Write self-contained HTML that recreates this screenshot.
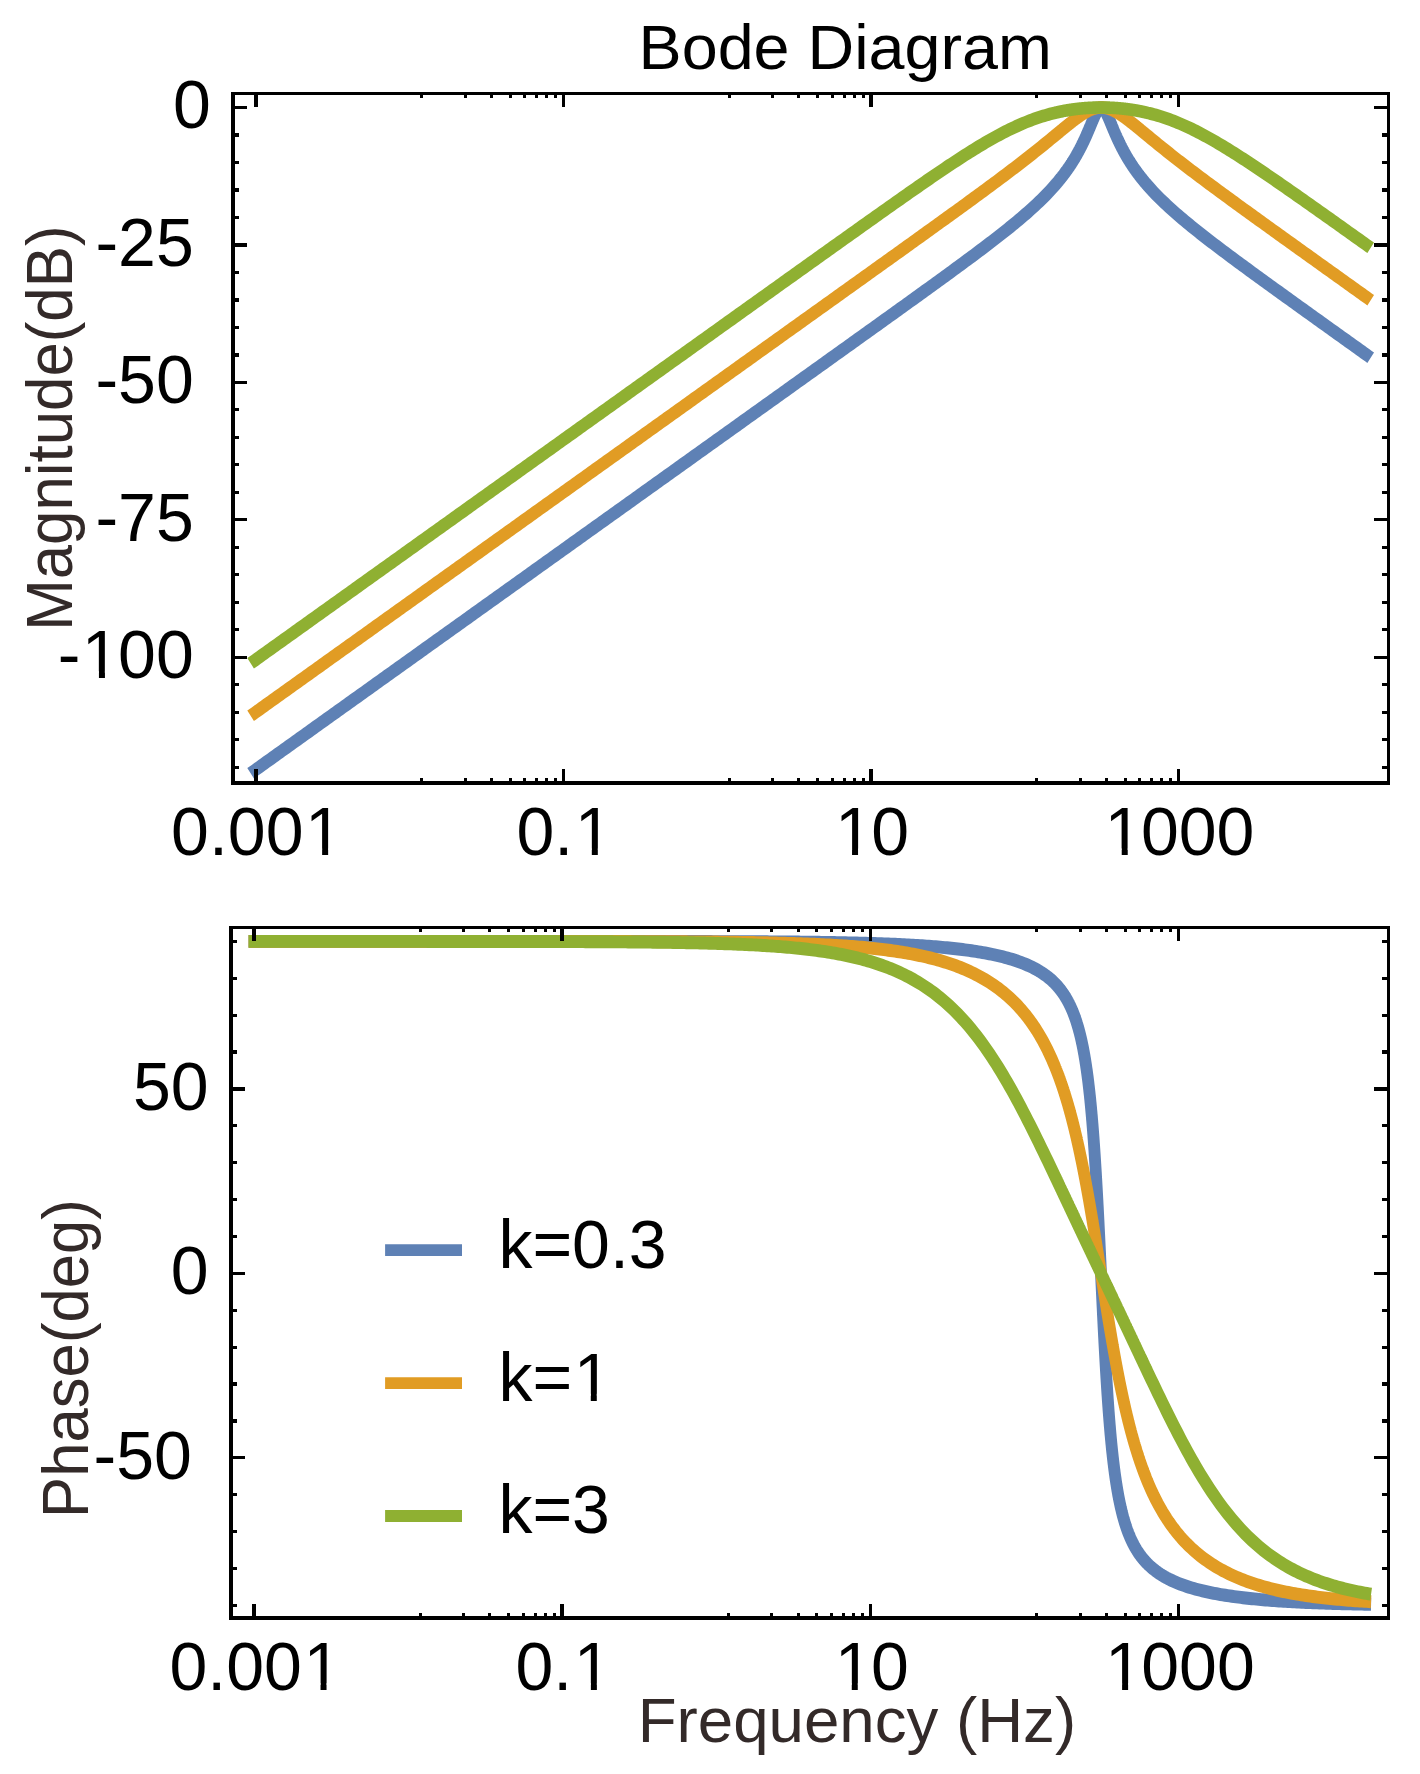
<!DOCTYPE html><html><head><meta charset="utf-8"><title>Bode Diagram</title>
<style>html,body{margin:0;padding:0;background:#fff}svg{display:block}text{font-family:"Liberation Sans",sans-serif;white-space:pre}</style></head><body>
<svg width="1420" height="1774" viewBox="0 0 1420 1774">
<rect width="1420" height="1774" fill="#fff"/>
<path transform="scale(1 1.0600)" d="M250.62 729.54 L252.86 728.03 L255.10 726.52 L257.34 725.00 L259.58 723.49 L261.82 721.98 L264.06 720.47 L266.30 718.96 L268.54 717.45 L270.78 715.94 L273.02 714.42 L275.26 712.91 L277.50 711.40 L279.74 709.89 L281.98 708.38 L284.22 706.87 L286.46 705.36 L288.70 703.84 L290.94 702.33 L293.18 700.82 L295.42 699.31 L297.66 697.80 L299.90 696.29 L302.14 694.78 L304.38 693.26 L306.62 691.75 L308.86 690.24 L311.10 688.73 L313.34 687.22 L315.58 685.71 L317.82 684.20 L320.06 682.68 L322.30 681.17 L324.54 679.66 L326.78 678.15 L329.02 676.64 L331.26 675.13 L333.50 673.62 L335.74 672.10 L337.98 670.59 L340.22 669.08 L342.46 667.57 L344.70 666.06 L346.94 664.55 L349.18 663.04 L351.42 661.52 L353.67 660.01 L355.91 658.50 L358.15 656.99 L360.39 655.48 L362.63 653.97 L364.87 652.46 L367.11 650.94 L369.35 649.43 L371.59 647.92 L373.83 646.41 L376.07 644.90 L378.31 643.39 L380.55 641.88 L382.79 640.36 L385.03 638.85 L387.27 637.34 L389.51 635.83 L391.75 634.32 L393.99 632.81 L396.23 631.30 L398.47 629.78 L400.71 628.27 L402.95 626.76 L405.19 625.25 L407.43 623.74 L409.67 622.23 L411.91 620.72 L414.15 619.20 L416.39 617.69 L418.63 616.18 L420.87 614.67 L423.11 613.16 L425.35 611.65 L427.59 610.14 L429.83 608.62 L432.07 607.11 L434.31 605.60 L436.55 604.09 L438.79 602.58 L441.03 601.07 L443.27 599.56 L445.51 598.04 L447.75 596.53 L449.99 595.02 L452.23 593.51 L454.47 592.00 L456.71 590.49 L458.95 588.98 L461.19 587.46 L463.43 585.95 L465.67 584.44 L467.91 582.93 L470.15 581.42 L472.39 579.91 L474.63 578.40 L476.87 576.88 L479.11 575.37 L481.35 573.86 L483.59 572.35 L485.83 570.84 L488.07 569.33 L490.31 567.82 L492.55 566.30 L494.79 564.79 L497.03 563.28 L499.27 561.77 L501.51 560.26 L503.75 558.75 L505.99 557.24 L508.23 555.72 L510.47 554.21 L512.71 552.70 L514.95 551.19 L517.20 549.68 L519.44 548.17 L521.68 546.66 L523.92 545.14 L526.16 543.63 L528.40 542.12 L530.64 540.61 L532.88 539.10 L535.12 537.59 L537.36 536.08 L539.60 534.56 L541.84 533.05 L544.08 531.54 L546.32 530.03 L548.56 528.52 L550.80 527.01 L553.04 525.50 L555.28 523.98 L557.52 522.47 L559.76 520.96 L562.00 519.45 L564.24 517.94 L566.48 516.43 L568.72 514.92 L570.96 513.40 L573.20 511.89 L575.44 510.38 L577.68 508.87 L579.92 507.36 L582.16 505.85 L584.40 504.34 L586.64 502.82 L588.88 501.31 L591.12 499.80 L593.36 498.29 L595.60 496.78 L597.84 495.27 L600.08 493.76 L602.32 492.24 L604.56 490.73 L606.80 489.22 L609.04 487.71 L611.28 486.20 L613.52 484.69 L615.76 483.18 L618.00 481.66 L620.24 480.15 L622.48 478.64 L624.72 477.13 L626.96 475.62 L629.20 474.11 L631.44 472.60 L633.68 471.08 L635.92 469.57 L638.16 468.06 L640.40 466.55 L642.64 465.04 L644.88 463.53 L647.12 462.02 L649.36 460.50 L651.60 458.99 L653.84 457.48 L656.08 455.97 L658.32 454.46 L660.56 452.95 L662.80 451.44 L665.04 449.92 L667.28 448.41 L669.52 446.90 L671.76 445.39 L674.00 443.88 L676.24 442.37 L678.49 440.86 L680.73 439.34 L682.97 437.83 L685.21 436.32 L687.45 434.81 L689.69 433.30 L691.93 431.79 L694.17 430.28 L696.41 428.76 L698.65 427.25 L700.89 425.74 L703.13 424.23 L705.37 422.72 L707.61 421.21 L709.85 419.69 L712.09 418.18 L714.33 416.67 L716.57 415.16 L718.81 413.65 L721.05 412.14 L723.29 410.63 L725.53 409.11 L727.77 407.60 L730.01 406.09 L732.25 404.58 L734.49 403.07 L736.73 401.56 L738.97 400.05 L741.21 398.53 L743.45 397.02 L745.69 395.51 L747.93 394.00 L750.17 392.49 L752.41 390.98 L754.65 389.47 L756.89 387.95 L759.13 386.44 L761.37 384.93 L763.61 383.42 L765.85 381.91 L768.09 380.40 L770.33 378.88 L772.57 377.37 L774.81 375.86 L777.05 374.35 L779.29 372.84 L781.53 371.33 L783.77 369.81 L786.01 368.30 L788.25 366.79 L790.49 365.28 L792.73 363.77 L794.97 362.26 L797.21 360.74 L799.45 359.23 L801.69 357.72 L803.93 356.21 L806.17 354.70 L808.41 353.19 L810.65 351.67 L812.89 350.16 L815.13 348.65 L817.37 347.14 L819.61 345.63 L821.85 344.11 L824.09 342.60 L826.33 341.09 L828.57 339.58 L830.81 338.06 L833.05 336.55 L835.29 335.04 L837.53 333.53 L839.77 332.02 L842.02 330.50 L844.26 328.99 L846.50 327.48 L848.74 325.96 L850.98 324.45 L853.22 322.94 L855.46 321.42 L857.70 319.91 L859.94 318.40 L862.18 316.88 L864.42 315.37 L866.66 313.86 L868.90 312.34 L871.14 310.83 L873.38 309.31 L875.62 307.80 L877.86 306.28 L880.10 304.77 L882.34 303.25 L884.58 301.74 L886.82 300.22 L889.06 298.71 L891.30 297.19 L893.54 295.67 L895.78 294.15 L898.02 292.64 L900.26 291.12 L902.50 289.60 L904.74 288.08 L906.98 286.56 L909.22 285.04 L911.46 283.52 L913.70 282.00 L915.94 280.48 L918.18 278.95 L920.42 277.43 L922.66 275.90 L924.90 274.38 L927.14 272.85 L929.38 271.32 L931.62 269.79 L933.86 268.26 L936.10 266.73 L938.34 265.20 L940.58 263.67 L942.82 262.13 L945.06 260.59 L947.30 259.05 L949.54 257.51 L951.78 255.97 L954.02 254.42 L956.26 252.87 L958.50 251.32 L960.74 249.77 L962.98 248.21 L965.22 246.65 L967.46 245.09 L969.70 243.52 L971.94 241.95 L974.18 240.38 L976.42 238.80 L978.66 237.21 L980.90 235.63 L983.14 234.03 L985.38 232.43 L987.62 230.82 L989.86 229.21 L992.10 227.59 L994.34 225.96 L996.58 224.32 L998.82 222.67 L1001.06 221.02 L1003.30 219.35 L1005.55 217.67 L1007.79 215.98 L1010.03 214.28 L1012.27 212.56 L1014.51 210.83 L1016.75 209.08 L1018.99 207.31 L1021.23 205.52 L1023.47 203.71 L1025.71 201.88 L1027.95 200.03 L1030.19 198.15 L1032.43 196.24 L1034.67 194.30 L1036.91 192.33 L1039.15 190.32 L1041.39 188.27 L1043.63 186.17 L1045.87 184.03 L1048.11 181.84 L1050.35 179.58 L1052.59 177.27 L1054.83 174.89 L1055.06 174.64 L1055.22 174.47 L1055.37 174.30 L1055.52 174.13 L1055.68 173.97 L1055.83 173.80 L1055.98 173.63 L1056.14 173.46 L1056.29 173.29 L1056.45 173.12 L1056.60 172.95 L1056.75 172.78 L1056.91 172.61 L1057.06 172.44 L1057.07 172.43 L1057.21 172.27 L1057.37 172.09 L1057.52 171.92 L1057.68 171.75 L1057.83 171.58 L1057.98 171.40 L1058.14 171.23 L1058.29 171.05 L1058.44 170.88 L1058.60 170.70 L1058.75 170.53 L1058.91 170.35 L1059.06 170.17 L1059.21 170.00 L1059.31 169.89 L1059.37 169.82 L1059.52 169.64 L1059.67 169.46 L1059.83 169.28 L1059.98 169.10 L1060.14 168.92 L1060.29 168.74 L1060.44 168.56 L1060.60 168.38 L1060.75 168.20 L1060.90 168.02 L1061.06 167.84 L1061.21 167.65 L1061.37 167.47 L1061.52 167.29 L1061.55 167.25 L1061.67 167.10 L1061.83 166.92 L1061.98 166.73 L1062.13 166.54 L1062.29 166.36 L1062.44 166.17 L1062.60 165.98 L1062.75 165.80 L1062.90 165.61 L1063.06 165.42 L1063.21 165.23 L1063.36 165.04 L1063.52 164.85 L1063.67 164.66 L1063.79 164.51 L1063.83 164.47 L1063.98 164.27 L1064.13 164.08 L1064.29 163.89 L1064.44 163.69 L1064.59 163.50 L1064.75 163.30 L1064.90 163.11 L1065.06 162.91 L1065.21 162.72 L1065.36 162.52 L1065.52 162.32 L1065.67 162.12 L1065.82 161.92 L1065.98 161.72 L1066.03 161.66 L1066.13 161.52 L1066.29 161.32 L1066.44 161.12 L1066.59 160.92 L1066.75 160.72 L1066.90 160.51 L1067.05 160.31 L1067.21 160.11 L1067.36 159.90 L1067.52 159.69 L1067.67 159.49 L1067.82 159.28 L1067.98 159.07 L1068.13 158.86 L1068.27 158.68 L1068.28 158.66 L1068.44 158.45 L1068.59 158.24 L1068.75 158.02 L1068.90 157.81 L1069.05 157.60 L1069.21 157.39 L1069.36 157.17 L1069.51 156.96 L1069.67 156.74 L1069.82 156.53 L1069.98 156.31 L1070.13 156.09 L1070.28 155.88 L1070.44 155.66 L1070.51 155.55 L1070.59 155.44 L1070.74 155.22 L1070.90 155.00 L1071.05 154.77 L1071.21 154.55 L1071.36 154.33 L1071.51 154.10 L1071.67 153.88 L1071.82 153.65 L1071.97 153.43 L1072.13 153.20 L1072.28 152.97 L1072.44 152.74 L1072.59 152.51 L1072.74 152.28 L1072.75 152.27 L1072.90 152.05 L1073.05 151.82 L1073.20 151.58 L1073.36 151.35 L1073.51 151.11 L1073.67 150.88 L1073.82 150.64 L1073.97 150.40 L1074.13 150.17 L1074.28 149.93 L1074.43 149.69 L1074.59 149.45 L1074.74 149.20 L1074.90 148.96 L1074.99 148.81 L1075.05 148.72 L1075.20 148.47 L1075.36 148.23 L1075.51 147.98 L1075.66 147.73 L1075.82 147.48 L1075.97 147.23 L1076.13 146.98 L1076.28 146.73 L1076.43 146.48 L1076.59 146.23 L1076.74 145.97 L1076.89 145.72 L1077.05 145.46 L1077.20 145.20 L1077.23 145.16 L1077.36 144.94 L1077.51 144.68 L1077.66 144.42 L1077.82 144.16 L1077.97 143.90 L1078.12 143.63 L1078.28 143.37 L1078.43 143.10 L1078.59 142.84 L1078.74 142.57 L1078.89 142.30 L1079.05 142.03 L1079.20 141.76 L1079.35 141.49 L1079.47 141.28 L1079.51 141.21 L1079.66 140.94 L1079.82 140.66 L1079.97 140.38 L1080.12 140.11 L1080.28 139.83 L1080.43 139.55 L1080.58 139.27 L1080.74 138.98 L1080.89 138.70 L1081.05 138.41 L1081.20 138.13 L1081.35 137.84 L1081.51 137.55 L1081.66 137.26 L1081.71 137.17 L1081.81 136.97 L1081.97 136.68 L1082.12 136.38 L1082.28 136.09 L1082.43 135.79 L1082.58 135.50 L1082.74 135.20 L1082.89 134.90 L1083.04 134.60 L1083.20 134.30 L1083.35 133.99 L1083.51 133.69 L1083.66 133.38 L1083.81 133.07 L1083.95 132.80 L1083.97 132.77 L1084.12 132.46 L1084.27 132.15 L1084.43 131.83 L1084.58 131.52 L1084.74 131.21 L1084.89 130.89 L1085.04 130.57 L1085.20 130.26 L1085.35 129.94 L1085.50 129.62 L1085.66 129.29 L1085.81 128.97 L1085.97 128.65 L1086.12 128.32 L1086.19 128.17 L1086.27 127.99 L1086.43 127.67 L1086.58 127.34 L1086.73 127.01 L1086.89 126.68 L1087.04 126.35 L1087.20 126.01 L1087.35 125.68 L1087.50 125.34 L1087.66 125.01 L1087.81 124.67 L1087.96 124.33 L1088.12 123.99 L1088.27 123.65 L1088.43 123.31 L1088.43 123.30 L1088.58 122.97 L1088.73 122.63 L1088.89 122.28 L1089.04 121.94 L1089.19 121.59 L1089.35 121.25 L1089.50 120.90 L1089.66 120.55 L1089.81 120.21 L1089.96 119.86 L1090.12 119.51 L1090.27 119.16 L1090.42 118.81 L1090.58 118.46 L1090.67 118.25 L1090.73 118.11 L1090.89 117.76 L1091.04 117.41 L1091.19 117.06 L1091.35 116.71 L1091.50 116.36 L1091.65 116.01 L1091.81 115.67 L1091.96 115.32 L1092.12 114.97 L1092.27 114.62 L1092.42 114.28 L1092.58 113.93 L1092.73 113.59 L1092.88 113.24 L1092.91 113.19 L1093.04 112.90 L1093.19 112.56 L1093.35 112.22 L1093.50 111.89 L1093.65 111.55 L1093.81 111.22 L1093.96 110.88 L1094.11 110.56 L1094.27 110.23 L1094.42 109.91 L1094.58 109.58 L1094.73 109.27 L1094.88 108.95 L1095.04 108.64 L1095.15 108.41 L1095.19 108.33 L1095.34 108.03 L1095.50 107.73 L1095.65 107.43 L1095.81 107.14 L1095.96 106.85 L1096.11 106.57 L1096.27 106.29 L1096.42 106.02 L1096.57 105.75 L1096.73 105.49 L1096.88 105.24 L1097.04 104.99 L1097.19 104.75 L1097.34 104.51 L1097.39 104.44 L1097.50 104.28 L1097.65 104.06 L1097.80 103.85 L1097.96 103.64 L1098.11 103.45 L1098.27 103.26 L1098.42 103.07 L1098.57 102.90 L1098.73 102.74 L1098.88 102.58 L1099.03 102.43 L1099.19 102.30 L1099.34 102.17 L1099.50 102.05 L1099.63 101.95 L1099.65 101.94 L1099.80 101.84 L1099.96 101.75 L1100.11 101.67 L1100.26 101.61 L1100.42 101.55 L1100.57 101.50 L1100.73 101.46 L1100.88 101.44 L1101.03 101.42 L1101.19 101.42 L1101.34 101.42 L1101.49 101.44 L1101.65 101.46 L1101.80 101.50 L1101.87 101.52 L1101.96 101.55 L1102.11 101.61 L1102.26 101.67 L1102.42 101.75 L1102.57 101.84 L1102.72 101.94 L1102.88 102.05 L1103.03 102.17 L1103.19 102.30 L1103.34 102.43 L1103.49 102.58 L1103.65 102.74 L1103.80 102.90 L1103.95 103.07 L1104.11 103.26 L1104.11 103.26 L1104.26 103.45 L1104.42 103.64 L1104.57 103.85 L1104.72 104.06 L1104.88 104.28 L1105.03 104.51 L1105.18 104.75 L1105.34 104.99 L1105.49 105.24 L1105.65 105.49 L1105.80 105.75 L1105.95 106.02 L1106.11 106.29 L1106.26 106.57 L1106.35 106.74 L1106.41 106.85 L1106.57 107.14 L1106.72 107.43 L1106.88 107.73 L1107.03 108.03 L1107.18 108.33 L1107.34 108.64 L1107.49 108.95 L1107.64 109.27 L1107.80 109.58 L1107.95 109.91 L1108.11 110.23 L1108.26 110.56 L1108.41 110.88 L1108.57 111.22 L1108.59 111.27 L1108.72 111.55 L1108.87 111.89 L1109.03 112.22 L1109.18 112.56 L1109.34 112.90 L1109.49 113.24 L1109.64 113.59 L1109.80 113.93 L1109.95 114.28 L1110.10 114.62 L1110.26 114.97 L1110.41 115.32 L1110.57 115.67 L1110.72 116.01 L1110.83 116.27 L1110.87 116.36 L1111.03 116.71 L1111.18 117.06 L1111.33 117.41 L1111.49 117.76 L1111.64 118.11 L1111.80 118.46 L1111.95 118.81 L1112.10 119.16 L1112.26 119.51 L1112.41 119.86 L1112.56 120.21 L1112.72 120.55 L1112.87 120.90 L1113.03 121.25 L1113.07 121.35 L1113.18 121.59 L1113.33 121.94 L1113.49 122.28 L1113.64 122.63 L1113.79 122.97 L1113.95 123.31 L1114.10 123.65 L1114.26 123.99 L1114.41 124.33 L1114.56 124.67 L1114.72 125.01 L1114.87 125.34 L1115.02 125.68 L1115.18 126.01 L1115.31 126.30 L1115.33 126.35 L1115.49 126.68 L1115.64 127.01 L1115.79 127.34 L1115.95 127.67 L1116.10 127.99 L1116.25 128.32 L1116.41 128.65 L1116.56 128.97 L1116.72 129.29 L1116.87 129.62 L1117.02 129.94 L1117.18 130.26 L1117.33 130.57 L1117.48 130.89 L1117.55 131.03 L1117.64 131.21 L1117.79 131.52 L1117.95 131.83 L1118.10 132.15 L1118.25 132.46 L1118.41 132.77 L1118.56 133.07 L1118.71 133.38 L1118.87 133.69 L1119.02 133.99 L1119.18 134.30 L1119.33 134.60 L1119.48 134.90 L1119.64 135.20 L1119.79 135.50 L1119.79 135.50 L1119.94 135.79 L1120.10 136.09 L1120.25 136.38 L1120.41 136.68 L1120.56 136.97 L1120.71 137.26 L1120.87 137.55 L1121.02 137.84 L1121.17 138.13 L1121.33 138.41 L1121.48 138.70 L1121.64 138.98 L1121.79 139.27 L1121.94 139.55 L1122.03 139.71 L1122.10 139.83 L1122.25 140.11 L1122.40 140.38 L1122.56 140.66 L1122.71 140.94 L1122.87 141.21 L1123.02 141.49 L1123.17 141.76 L1123.33 142.03 L1123.48 142.30 L1123.63 142.57 L1123.79 142.84 L1123.94 143.10 L1124.10 143.37 L1124.25 143.63 L1124.27 143.67 L1124.40 143.90 L1124.56 144.16 L1124.71 144.42 L1124.86 144.68 L1125.02 144.94 L1125.17 145.20 L1125.33 145.46 L1125.48 145.72 L1125.63 145.97 L1125.79 146.23 L1125.94 146.48 L1126.09 146.73 L1126.25 146.98 L1126.40 147.23 L1126.51 147.41 L1126.56 147.48 L1126.71 147.73 L1126.86 147.98 L1127.02 148.23 L1127.17 148.47 L1127.32 148.72 L1127.48 148.96 L1127.63 149.20 L1127.79 149.45 L1127.94 149.69 L1128.09 149.93 L1128.25 150.17 L1128.40 150.40 L1128.55 150.64 L1128.71 150.88 L1128.75 150.95 L1128.86 151.11 L1129.02 151.35 L1129.17 151.58 L1129.32 151.82 L1129.48 152.05 L1129.63 152.28 L1129.78 152.51 L1129.94 152.74 L1130.09 152.97 L1130.25 153.20 L1130.40 153.43 L1130.55 153.65 L1130.71 153.88 L1130.86 154.10 L1130.99 154.30 L1131.01 154.33 L1131.17 154.55 L1131.32 154.77 L1131.48 155.00 L1131.63 155.22 L1131.78 155.44 L1131.94 155.66 L1132.09 155.88 L1132.24 156.09 L1132.40 156.31 L1132.55 156.53 L1132.71 156.74 L1132.86 156.96 L1133.01 157.17 L1133.17 157.39 L1133.23 157.48 L1133.32 157.60 L1133.47 157.81 L1133.63 158.02 L1133.78 158.24 L1133.94 158.45 L1134.09 158.66 L1134.24 158.86 L1134.40 159.07 L1134.55 159.28 L1134.70 159.49 L1134.86 159.69 L1135.01 159.90 L1135.17 160.11 L1135.32 160.31 L1135.47 160.51 L1135.47 160.51 L1135.63 160.72 L1135.78 160.92 L1135.93 161.12 L1136.09 161.32 L1136.24 161.52 L1136.40 161.72 L1136.55 161.92 L1136.70 162.12 L1136.86 162.32 L1137.01 162.52 L1137.16 162.72 L1137.32 162.91 L1137.47 163.11 L1137.63 163.30 L1137.71 163.42 L1137.78 163.50 L1137.93 163.69 L1138.09 163.89 L1138.24 164.08 L1138.39 164.27 L1138.55 164.47 L1138.70 164.66 L1138.86 164.85 L1139.01 165.04 L1139.16 165.23 L1139.32 165.42 L1139.47 165.61 L1139.62 165.80 L1139.78 165.98 L1139.93 166.17 L1139.95 166.20 L1140.09 166.36 L1140.24 166.54 L1140.39 166.73 L1140.55 166.92 L1140.70 167.10 L1140.85 167.29 L1141.01 167.47 L1141.16 167.65 L1141.32 167.84 L1141.47 168.02 L1141.62 168.20 L1141.78 168.38 L1141.93 168.56 L1142.08 168.74 L1142.19 168.87 L1142.24 168.92 L1142.39 169.10 L1142.55 169.28 L1142.70 169.46 L1142.85 169.64 L1143.01 169.82 L1143.16 170.00 L1143.31 170.17 L1143.47 170.35 L1143.62 170.53 L1143.78 170.70 L1143.93 170.88 L1144.08 171.05 L1144.24 171.23 L1144.39 171.40 L1144.43 171.45 L1144.54 171.58 L1144.70 171.75 L1144.85 171.92 L1145.01 172.09 L1145.16 172.27 L1145.31 172.44 L1145.47 172.61 L1145.62 172.78 L1145.77 172.95 L1145.93 173.12 L1146.08 173.29 L1146.24 173.46 L1146.39 173.63 L1146.54 173.80 L1146.67 173.94 L1146.70 173.97 L1146.85 174.13 L1147.00 174.30 L1147.16 174.47 L1147.31 174.64 L1148.91 176.35 L1151.15 178.69 L1153.39 180.97 L1155.63 183.18 L1157.87 185.34 L1160.11 187.46 L1162.35 189.52 L1164.59 191.55 L1166.83 193.54 L1169.08 195.49 L1171.32 197.41 L1173.56 199.30 L1175.80 201.17 L1178.04 203.01 L1180.28 204.82 L1182.52 206.62 L1184.76 208.39 L1187.00 210.15 L1189.24 211.89 L1191.48 213.61 L1193.72 215.32 L1195.96 217.02 L1198.20 218.70 L1200.44 220.37 L1202.68 222.03 L1204.92 223.68 L1207.16 225.32 L1209.40 226.95 L1211.64 228.58 L1213.88 230.20 L1216.12 231.81 L1218.36 233.41 L1220.60 235.01 L1222.84 236.60 L1225.08 238.18 L1227.32 239.76 L1229.56 241.34 L1231.80 242.91 L1234.04 244.48 L1236.28 246.05 L1238.52 247.61 L1240.76 249.16 L1243.00 250.72 L1245.24 252.27 L1247.48 253.82 L1249.72 255.37 L1251.96 256.91 L1254.20 258.45 L1256.44 259.99 L1258.68 261.53 L1260.92 263.07 L1263.16 264.60 L1265.40 266.14 L1267.64 267.67 L1269.88 269.20 L1272.12 270.73 L1274.36 272.26 L1276.60 273.78 L1278.84 275.31 L1281.08 276.84 L1283.32 278.36 L1285.56 279.88 L1287.80 281.41 L1290.04 282.93 L1292.28 284.45 L1294.52 285.97 L1296.76 287.49 L1299.00 289.01 L1301.24 290.53 L1303.48 292.05 L1305.72 293.56 L1307.96 295.08 L1310.20 296.60 L1312.44 298.12 L1314.68 299.63 L1316.92 301.15 L1319.16 302.66 L1321.40 304.18 L1323.64 305.69 L1325.88 307.21 L1328.12 308.72 L1330.37 310.24 L1332.61 311.75 L1334.85 313.27 L1337.09 314.78 L1339.33 316.30 L1341.57 317.81 L1343.81 319.32 L1346.05 320.84 L1348.29 322.35 L1350.53 323.86 L1352.77 325.38 L1355.01 326.89 L1357.25 328.40 L1359.49 329.91 L1361.73 331.43 L1363.97 332.94 L1366.21 334.45 L1368.45 335.96 L1370.69 337.48" fill="none" stroke="#5E81B5" stroke-width="11.90" stroke-linejoin="round" stroke-linecap="butt"/>
<path transform="scale(1 1.0600)" d="M250.62 675.30 L252.86 673.79 L255.10 672.27 L257.34 670.76 L259.58 669.25 L261.82 667.74 L264.06 666.23 L266.30 664.72 L268.54 663.21 L270.78 661.69 L273.02 660.18 L275.26 658.67 L277.50 657.16 L279.74 655.65 L281.98 654.14 L284.22 652.63 L286.46 651.11 L288.70 649.60 L290.94 648.09 L293.18 646.58 L295.42 645.07 L297.66 643.56 L299.90 642.05 L302.14 640.53 L304.38 639.02 L306.62 637.51 L308.86 636.00 L311.10 634.49 L313.34 632.98 L315.58 631.47 L317.82 629.95 L320.06 628.44 L322.30 626.93 L324.54 625.42 L326.78 623.91 L329.02 622.40 L331.26 620.89 L333.50 619.37 L335.74 617.86 L337.98 616.35 L340.22 614.84 L342.46 613.33 L344.70 611.82 L346.94 610.31 L349.18 608.79 L351.42 607.28 L353.67 605.77 L355.91 604.26 L358.15 602.75 L360.39 601.24 L362.63 599.73 L364.87 598.21 L367.11 596.70 L369.35 595.19 L371.59 593.68 L373.83 592.17 L376.07 590.66 L378.31 589.15 L380.55 587.63 L382.79 586.12 L385.03 584.61 L387.27 583.10 L389.51 581.59 L391.75 580.08 L393.99 578.57 L396.23 577.05 L398.47 575.54 L400.71 574.03 L402.95 572.52 L405.19 571.01 L407.43 569.50 L409.67 567.99 L411.91 566.47 L414.15 564.96 L416.39 563.45 L418.63 561.94 L420.87 560.43 L423.11 558.92 L425.35 557.41 L427.59 555.89 L429.83 554.38 L432.07 552.87 L434.31 551.36 L436.55 549.85 L438.79 548.34 L441.03 546.83 L443.27 545.31 L445.51 543.80 L447.75 542.29 L449.99 540.78 L452.23 539.27 L454.47 537.76 L456.71 536.25 L458.95 534.73 L461.19 533.22 L463.43 531.71 L465.67 530.20 L467.91 528.69 L470.15 527.18 L472.39 525.67 L474.63 524.15 L476.87 522.64 L479.11 521.13 L481.35 519.62 L483.59 518.11 L485.83 516.60 L488.07 515.09 L490.31 513.57 L492.55 512.06 L494.79 510.55 L497.03 509.04 L499.27 507.53 L501.51 506.02 L503.75 504.51 L505.99 502.99 L508.23 501.48 L510.47 499.97 L512.71 498.46 L514.95 496.95 L517.20 495.44 L519.44 493.93 L521.68 492.41 L523.92 490.90 L526.16 489.39 L528.40 487.88 L530.64 486.37 L532.88 484.86 L535.12 483.35 L537.36 481.83 L539.60 480.32 L541.84 478.81 L544.08 477.30 L546.32 475.79 L548.56 474.28 L550.80 472.77 L553.04 471.25 L555.28 469.74 L557.52 468.23 L559.76 466.72 L562.00 465.21 L564.24 463.70 L566.48 462.19 L568.72 460.67 L570.96 459.16 L573.20 457.65 L575.44 456.14 L577.68 454.63 L579.92 453.12 L582.16 451.61 L584.40 450.09 L586.64 448.58 L588.88 447.07 L591.12 445.56 L593.36 444.05 L595.60 442.54 L597.84 441.03 L600.08 439.51 L602.32 438.00 L604.56 436.49 L606.80 434.98 L609.04 433.47 L611.28 431.96 L613.52 430.45 L615.76 428.93 L618.00 427.42 L620.24 425.91 L622.48 424.40 L624.72 422.89 L626.96 421.38 L629.20 419.87 L631.44 418.35 L633.68 416.84 L635.92 415.33 L638.16 413.82 L640.40 412.31 L642.64 410.80 L644.88 409.29 L647.12 407.77 L649.36 406.26 L651.60 404.75 L653.84 403.24 L656.08 401.73 L658.32 400.22 L660.56 398.71 L662.80 397.19 L665.04 395.68 L667.28 394.17 L669.52 392.66 L671.76 391.15 L674.00 389.64 L676.24 388.13 L678.49 386.61 L680.73 385.10 L682.97 383.59 L685.21 382.08 L687.45 380.57 L689.69 379.06 L691.93 377.55 L694.17 376.03 L696.41 374.52 L698.65 373.01 L700.89 371.50 L703.13 369.99 L705.37 368.48 L707.61 366.97 L709.85 365.45 L712.09 363.94 L714.33 362.43 L716.57 360.92 L718.81 359.41 L721.05 357.90 L723.29 356.39 L725.53 354.87 L727.77 353.36 L730.01 351.85 L732.25 350.34 L734.49 348.83 L736.73 347.32 L738.97 345.80 L741.21 344.29 L743.45 342.78 L745.69 341.27 L747.93 339.76 L750.17 338.25 L752.41 336.74 L754.65 335.22 L756.89 333.71 L759.13 332.20 L761.37 330.69 L763.61 329.18 L765.85 327.67 L768.09 326.16 L770.33 324.64 L772.57 323.13 L774.81 321.62 L777.05 320.11 L779.29 318.60 L781.53 317.09 L783.77 315.58 L786.01 314.06 L788.25 312.55 L790.49 311.04 L792.73 309.53 L794.97 308.02 L797.21 306.51 L799.45 304.99 L801.69 303.48 L803.93 301.97 L806.17 300.46 L808.41 298.95 L810.65 297.44 L812.89 295.92 L815.13 294.41 L817.37 292.90 L819.61 291.39 L821.85 289.88 L824.09 288.37 L826.33 286.85 L828.57 285.34 L830.81 283.83 L833.05 282.32 L835.29 280.81 L837.53 279.29 L839.77 277.78 L842.02 276.27 L844.26 274.76 L846.50 273.25 L848.74 271.73 L850.98 270.22 L853.22 268.71 L855.46 267.20 L857.70 265.68 L859.94 264.17 L862.18 262.66 L864.42 261.15 L866.66 259.63 L868.90 258.12 L871.14 256.61 L873.38 255.09 L875.62 253.58 L877.86 252.07 L880.10 250.56 L882.34 249.04 L884.58 247.53 L886.82 246.01 L889.06 244.50 L891.30 242.99 L893.54 241.47 L895.78 239.96 L898.02 238.44 L900.26 236.93 L902.50 235.41 L904.74 233.90 L906.98 232.38 L909.22 230.86 L911.46 229.35 L913.70 227.83 L915.94 226.31 L918.18 224.80 L920.42 223.28 L922.66 221.76 L924.90 220.24 L927.14 218.72 L929.38 217.20 L931.62 215.68 L933.86 214.16 L936.10 212.64 L938.34 211.12 L940.58 209.59 L942.82 208.07 L945.06 206.54 L947.30 205.02 L949.54 203.49 L951.78 201.96 L954.02 200.44 L956.26 198.91 L958.50 197.37 L960.74 195.84 L962.98 194.31 L965.22 192.77 L967.46 191.23 L969.70 189.69 L971.94 188.15 L974.18 186.61 L976.42 185.06 L978.66 183.52 L980.90 181.97 L983.14 180.41 L985.38 178.86 L987.62 177.30 L989.86 175.74 L992.10 174.17 L994.34 172.60 L996.58 171.03 L998.82 169.46 L1001.06 167.87 L1003.30 166.29 L1005.55 164.70 L1007.79 163.11 L1010.03 161.51 L1012.27 159.90 L1014.51 158.29 L1016.75 156.67 L1018.99 155.05 L1021.23 153.42 L1023.47 151.78 L1025.71 150.13 L1027.95 148.48 L1030.19 146.82 L1032.43 145.15 L1034.67 143.47 L1036.91 141.79 L1039.15 140.09 L1041.39 138.39 L1043.63 136.68 L1045.87 134.96 L1048.11 133.24 L1050.35 131.50 L1052.59 129.77 L1054.83 128.02 L1055.06 127.84 L1055.22 127.72 L1055.37 127.60 L1055.52 127.48 L1055.68 127.36 L1055.83 127.24 L1055.98 127.12 L1056.14 127.00 L1056.29 126.88 L1056.45 126.76 L1056.60 126.64 L1056.75 126.52 L1056.91 126.41 L1057.06 126.29 L1057.07 126.28 L1057.21 126.17 L1057.37 126.05 L1057.52 125.93 L1057.68 125.81 L1057.83 125.69 L1057.98 125.57 L1058.14 125.45 L1058.29 125.33 L1058.44 125.21 L1058.60 125.09 L1058.75 124.97 L1058.91 124.85 L1059.06 124.73 L1059.21 124.61 L1059.31 124.53 L1059.37 124.49 L1059.52 124.37 L1059.67 124.25 L1059.83 124.13 L1059.98 124.01 L1060.14 123.89 L1060.29 123.77 L1060.44 123.65 L1060.60 123.53 L1060.75 123.41 L1060.90 123.29 L1061.06 123.17 L1061.21 123.05 L1061.37 122.93 L1061.52 122.82 L1061.55 122.79 L1061.67 122.70 L1061.83 122.58 L1061.98 122.46 L1062.13 122.34 L1062.29 122.22 L1062.44 122.10 L1062.60 121.98 L1062.75 121.86 L1062.90 121.74 L1063.06 121.62 L1063.21 121.50 L1063.36 121.38 L1063.52 121.27 L1063.67 121.15 L1063.79 121.06 L1063.83 121.03 L1063.98 120.91 L1064.13 120.79 L1064.29 120.67 L1064.44 120.55 L1064.59 120.43 L1064.75 120.32 L1064.90 120.20 L1065.06 120.08 L1065.21 119.96 L1065.36 119.84 L1065.52 119.72 L1065.67 119.61 L1065.82 119.49 L1065.98 119.37 L1066.03 119.33 L1066.13 119.25 L1066.29 119.14 L1066.44 119.02 L1066.59 118.90 L1066.75 118.78 L1066.90 118.66 L1067.05 118.55 L1067.21 118.43 L1067.36 118.31 L1067.52 118.20 L1067.67 118.08 L1067.82 117.96 L1067.98 117.84 L1068.13 117.73 L1068.27 117.62 L1068.28 117.61 L1068.44 117.50 L1068.59 117.38 L1068.75 117.26 L1068.90 117.15 L1069.05 117.03 L1069.21 116.91 L1069.36 116.80 L1069.51 116.68 L1069.67 116.57 L1069.82 116.45 L1069.98 116.34 L1070.13 116.22 L1070.28 116.11 L1070.44 115.99 L1070.51 115.94 L1070.59 115.88 L1070.74 115.76 L1070.90 115.65 L1071.05 115.53 L1071.21 115.42 L1071.36 115.31 L1071.51 115.19 L1071.67 115.08 L1071.82 114.96 L1071.97 114.85 L1072.13 114.74 L1072.28 114.63 L1072.44 114.51 L1072.59 114.40 L1072.74 114.29 L1072.75 114.28 L1072.90 114.17 L1073.05 114.06 L1073.20 113.95 L1073.36 113.84 L1073.51 113.73 L1073.67 113.62 L1073.82 113.51 L1073.97 113.39 L1074.13 113.28 L1074.28 113.17 L1074.43 113.06 L1074.59 112.95 L1074.74 112.84 L1074.90 112.73 L1074.99 112.67 L1075.05 112.63 L1075.20 112.52 L1075.36 112.41 L1075.51 112.30 L1075.66 112.19 L1075.82 112.08 L1075.97 111.97 L1076.13 111.87 L1076.28 111.76 L1076.43 111.65 L1076.59 111.55 L1076.74 111.44 L1076.89 111.33 L1077.05 111.23 L1077.20 111.12 L1077.23 111.10 L1077.36 111.02 L1077.51 110.91 L1077.66 110.81 L1077.82 110.70 L1077.97 110.60 L1078.12 110.50 L1078.28 110.39 L1078.43 110.29 L1078.59 110.19 L1078.74 110.08 L1078.89 109.98 L1079.05 109.88 L1079.20 109.78 L1079.35 109.68 L1079.47 109.60 L1079.51 109.58 L1079.66 109.48 L1079.82 109.38 L1079.97 109.28 L1080.12 109.18 L1080.28 109.08 L1080.43 108.98 L1080.58 108.88 L1080.74 108.78 L1080.89 108.69 L1081.05 108.59 L1081.20 108.49 L1081.35 108.40 L1081.51 108.30 L1081.66 108.21 L1081.71 108.18 L1081.81 108.11 L1081.97 108.02 L1082.12 107.92 L1082.28 107.83 L1082.43 107.74 L1082.58 107.65 L1082.74 107.55 L1082.89 107.46 L1083.04 107.37 L1083.20 107.28 L1083.35 107.19 L1083.51 107.10 L1083.66 107.01 L1083.81 106.92 L1083.95 106.84 L1083.97 106.83 L1084.12 106.75 L1084.27 106.66 L1084.43 106.57 L1084.58 106.49 L1084.74 106.40 L1084.89 106.32 L1085.04 106.23 L1085.20 106.15 L1085.35 106.06 L1085.50 105.98 L1085.66 105.90 L1085.81 105.82 L1085.97 105.74 L1086.12 105.66 L1086.19 105.62 L1086.27 105.58 L1086.43 105.50 L1086.58 105.42 L1086.73 105.34 L1086.89 105.26 L1087.04 105.19 L1087.20 105.11 L1087.35 105.03 L1087.50 104.96 L1087.66 104.88 L1087.81 104.81 L1087.96 104.74 L1088.12 104.66 L1088.27 104.59 L1088.43 104.52 L1088.43 104.52 L1088.58 104.45 L1088.73 104.38 L1088.89 104.31 L1089.04 104.24 L1089.19 104.18 L1089.35 104.11 L1089.50 104.04 L1089.66 103.98 L1089.81 103.91 L1089.96 103.85 L1090.12 103.79 L1090.27 103.72 L1090.42 103.66 L1090.58 103.60 L1090.67 103.56 L1090.73 103.54 L1090.89 103.48 L1091.04 103.42 L1091.19 103.36 L1091.35 103.30 L1091.50 103.25 L1091.65 103.19 L1091.81 103.14 L1091.96 103.08 L1092.12 103.03 L1092.27 102.98 L1092.42 102.92 L1092.58 102.87 L1092.73 102.82 L1092.88 102.77 L1092.91 102.77 L1093.04 102.72 L1093.19 102.68 L1093.35 102.63 L1093.50 102.58 L1093.65 102.54 L1093.81 102.49 L1093.96 102.45 L1094.11 102.41 L1094.27 102.37 L1094.42 102.32 L1094.58 102.28 L1094.73 102.24 L1094.88 102.21 L1095.04 102.17 L1095.15 102.14 L1095.19 102.13 L1095.34 102.10 L1095.50 102.06 L1095.65 102.03 L1095.81 101.99 L1095.96 101.96 L1096.11 101.93 L1096.27 101.90 L1096.42 101.87 L1096.57 101.84 L1096.73 101.81 L1096.88 101.79 L1097.04 101.76 L1097.19 101.74 L1097.34 101.71 L1097.39 101.70 L1097.50 101.69 L1097.65 101.67 L1097.80 101.65 L1097.96 101.62 L1098.11 101.61 L1098.27 101.59 L1098.42 101.57 L1098.57 101.55 L1098.73 101.54 L1098.88 101.52 L1099.03 101.51 L1099.19 101.50 L1099.34 101.48 L1099.50 101.47 L1099.63 101.46 L1099.65 101.46 L1099.80 101.45 L1099.96 101.45 L1100.11 101.44 L1100.26 101.43 L1100.42 101.43 L1100.57 101.42 L1100.73 101.42 L1100.88 101.42 L1101.03 101.42 L1101.19 101.42 L1101.34 101.42 L1101.49 101.42 L1101.65 101.42 L1101.80 101.42 L1101.87 101.42 L1101.96 101.43 L1102.11 101.43 L1102.26 101.44 L1102.42 101.45 L1102.57 101.45 L1102.72 101.46 L1102.88 101.47 L1103.03 101.48 L1103.19 101.50 L1103.34 101.51 L1103.49 101.52 L1103.65 101.54 L1103.80 101.55 L1103.95 101.57 L1104.11 101.59 L1104.11 101.59 L1104.26 101.61 L1104.42 101.62 L1104.57 101.65 L1104.72 101.67 L1104.88 101.69 L1105.03 101.71 L1105.18 101.74 L1105.34 101.76 L1105.49 101.79 L1105.65 101.81 L1105.80 101.84 L1105.95 101.87 L1106.11 101.90 L1106.26 101.93 L1106.35 101.95 L1106.41 101.96 L1106.57 101.99 L1106.72 102.03 L1106.88 102.06 L1107.03 102.10 L1107.18 102.13 L1107.34 102.17 L1107.49 102.21 L1107.64 102.24 L1107.80 102.28 L1107.95 102.32 L1108.11 102.37 L1108.26 102.41 L1108.41 102.45 L1108.57 102.49 L1108.59 102.50 L1108.72 102.54 L1108.87 102.58 L1109.03 102.63 L1109.18 102.68 L1109.34 102.72 L1109.49 102.77 L1109.64 102.82 L1109.80 102.87 L1109.95 102.92 L1110.10 102.98 L1110.26 103.03 L1110.41 103.08 L1110.57 103.14 L1110.72 103.19 L1110.83 103.23 L1110.87 103.25 L1111.03 103.30 L1111.18 103.36 L1111.33 103.42 L1111.49 103.48 L1111.64 103.54 L1111.80 103.60 L1111.95 103.66 L1112.10 103.72 L1112.26 103.79 L1112.41 103.85 L1112.56 103.91 L1112.72 103.98 L1112.87 104.04 L1113.03 104.11 L1113.07 104.13 L1113.18 104.18 L1113.33 104.24 L1113.49 104.31 L1113.64 104.38 L1113.79 104.45 L1113.95 104.52 L1114.10 104.59 L1114.26 104.66 L1114.41 104.74 L1114.56 104.81 L1114.72 104.88 L1114.87 104.96 L1115.02 105.03 L1115.18 105.11 L1115.31 105.18 L1115.33 105.19 L1115.49 105.26 L1115.64 105.34 L1115.79 105.42 L1115.95 105.50 L1116.10 105.58 L1116.25 105.66 L1116.41 105.74 L1116.56 105.82 L1116.72 105.90 L1116.87 105.98 L1117.02 106.06 L1117.18 106.15 L1117.33 106.23 L1117.48 106.32 L1117.55 106.35 L1117.64 106.40 L1117.79 106.49 L1117.95 106.57 L1118.10 106.66 L1118.25 106.75 L1118.41 106.83 L1118.56 106.92 L1118.71 107.01 L1118.87 107.10 L1119.02 107.19 L1119.18 107.28 L1119.33 107.37 L1119.48 107.46 L1119.64 107.55 L1119.79 107.65 L1119.79 107.65 L1119.94 107.74 L1120.10 107.83 L1120.25 107.92 L1120.41 108.02 L1120.56 108.11 L1120.71 108.21 L1120.87 108.30 L1121.02 108.40 L1121.17 108.49 L1121.33 108.59 L1121.48 108.69 L1121.64 108.78 L1121.79 108.88 L1121.94 108.98 L1122.03 109.04 L1122.10 109.08 L1122.25 109.18 L1122.40 109.28 L1122.56 109.38 L1122.71 109.48 L1122.87 109.58 L1123.02 109.68 L1123.17 109.78 L1123.33 109.88 L1123.48 109.98 L1123.63 110.08 L1123.79 110.19 L1123.94 110.29 L1124.10 110.39 L1124.25 110.50 L1124.27 110.51 L1124.40 110.60 L1124.56 110.70 L1124.71 110.81 L1124.86 110.91 L1125.02 111.02 L1125.17 111.12 L1125.33 111.23 L1125.48 111.33 L1125.63 111.44 L1125.79 111.55 L1125.94 111.65 L1126.09 111.76 L1126.25 111.87 L1126.40 111.97 L1126.51 112.05 L1126.56 112.08 L1126.71 112.19 L1126.86 112.30 L1127.02 112.41 L1127.17 112.52 L1127.32 112.63 L1127.48 112.73 L1127.63 112.84 L1127.79 112.95 L1127.94 113.06 L1128.09 113.17 L1128.25 113.28 L1128.40 113.39 L1128.55 113.51 L1128.71 113.62 L1128.75 113.65 L1128.86 113.73 L1129.02 113.84 L1129.17 113.95 L1129.32 114.06 L1129.48 114.17 L1129.63 114.29 L1129.78 114.40 L1129.94 114.51 L1130.09 114.63 L1130.25 114.74 L1130.40 114.85 L1130.55 114.96 L1130.71 115.08 L1130.86 115.19 L1130.99 115.29 L1131.01 115.31 L1131.17 115.42 L1131.32 115.53 L1131.48 115.65 L1131.63 115.76 L1131.78 115.88 L1131.94 115.99 L1132.09 116.11 L1132.24 116.22 L1132.40 116.34 L1132.55 116.45 L1132.71 116.57 L1132.86 116.68 L1133.01 116.80 L1133.17 116.91 L1133.23 116.96 L1133.32 117.03 L1133.47 117.15 L1133.63 117.26 L1133.78 117.38 L1133.94 117.50 L1134.09 117.61 L1134.24 117.73 L1134.40 117.84 L1134.55 117.96 L1134.70 118.08 L1134.86 118.20 L1135.01 118.31 L1135.17 118.43 L1135.32 118.55 L1135.47 118.66 L1135.47 118.66 L1135.63 118.78 L1135.78 118.90 L1135.93 119.02 L1136.09 119.14 L1136.24 119.25 L1136.40 119.37 L1136.55 119.49 L1136.70 119.61 L1136.86 119.72 L1137.01 119.84 L1137.16 119.96 L1137.32 120.08 L1137.47 120.20 L1137.63 120.32 L1137.71 120.38 L1137.78 120.43 L1137.93 120.55 L1138.09 120.67 L1138.24 120.79 L1138.39 120.91 L1138.55 121.03 L1138.70 121.15 L1138.86 121.27 L1139.01 121.38 L1139.16 121.50 L1139.32 121.62 L1139.47 121.74 L1139.62 121.86 L1139.78 121.98 L1139.93 122.10 L1139.95 122.12 L1140.09 122.22 L1140.24 122.34 L1140.39 122.46 L1140.55 122.58 L1140.70 122.70 L1140.85 122.82 L1141.01 122.93 L1141.16 123.05 L1141.32 123.17 L1141.47 123.29 L1141.62 123.41 L1141.78 123.53 L1141.93 123.65 L1142.08 123.77 L1142.19 123.86 L1142.24 123.89 L1142.39 124.01 L1142.55 124.13 L1142.70 124.25 L1142.85 124.37 L1143.01 124.49 L1143.16 124.61 L1143.31 124.73 L1143.47 124.85 L1143.62 124.97 L1143.78 125.09 L1143.93 125.21 L1144.08 125.33 L1144.24 125.45 L1144.39 125.57 L1144.43 125.60 L1144.54 125.69 L1144.70 125.81 L1144.85 125.93 L1145.01 126.05 L1145.16 126.17 L1145.31 126.29 L1145.47 126.41 L1145.62 126.52 L1145.77 126.64 L1145.93 126.76 L1146.08 126.88 L1146.24 127.00 L1146.39 127.12 L1146.54 127.24 L1146.67 127.35 L1146.70 127.36 L1146.85 127.48 L1147.00 127.60 L1147.16 127.72 L1147.31 127.84 L1148.91 129.09 L1151.15 130.83 L1153.39 132.56 L1155.63 134.29 L1157.87 136.01 L1160.11 137.73 L1162.35 139.43 L1164.59 141.13 L1166.83 142.82 L1169.08 144.50 L1171.32 146.17 L1173.56 147.84 L1175.80 149.49 L1178.04 151.14 L1180.28 152.78 L1182.52 154.41 L1184.76 156.04 L1187.00 157.66 L1189.24 159.27 L1191.48 160.88 L1193.72 162.48 L1195.96 164.08 L1198.20 165.67 L1200.44 167.26 L1202.68 168.84 L1204.92 170.42 L1207.16 171.99 L1209.40 173.56 L1211.64 175.13 L1213.88 176.69 L1216.12 178.25 L1218.36 179.81 L1220.60 181.36 L1222.84 182.91 L1225.08 184.46 L1227.32 186.01 L1229.56 187.55 L1231.80 189.09 L1234.04 190.63 L1236.28 192.17 L1238.52 193.71 L1240.76 195.24 L1243.00 196.78 L1245.24 198.31 L1247.48 199.84 L1249.72 201.37 L1251.96 202.90 L1254.20 204.42 L1256.44 205.95 L1258.68 207.48 L1260.92 209.00 L1263.16 210.52 L1265.40 212.05 L1267.64 213.57 L1269.88 215.09 L1272.12 216.61 L1274.36 218.13 L1276.60 219.65 L1278.84 221.17 L1281.08 222.69 L1283.32 224.21 L1285.56 225.72 L1287.80 227.24 L1290.04 228.76 L1292.28 230.27 L1294.52 231.79 L1296.76 233.31 L1299.00 234.82 L1301.24 236.34 L1303.48 237.85 L1305.72 239.37 L1307.96 240.88 L1310.20 242.40 L1312.44 243.91 L1314.68 245.43 L1316.92 246.94 L1319.16 248.45 L1321.40 249.97 L1323.64 251.48 L1325.88 252.99 L1328.12 254.51 L1330.37 256.02 L1332.61 257.53 L1334.85 259.05 L1337.09 260.56 L1339.33 262.07 L1341.57 263.58 L1343.81 265.10 L1346.05 266.61 L1348.29 268.12 L1350.53 269.63 L1352.77 271.15 L1355.01 272.66 L1357.25 274.17 L1359.49 275.68 L1361.73 277.19 L1363.97 278.71 L1366.21 280.22 L1368.45 281.73 L1370.69 283.24" fill="none" stroke="#E19C24" stroke-width="11.90" stroke-linejoin="round" stroke-linecap="butt"/>
<path transform="scale(1 1.0600)" d="M250.62 625.80 L252.86 624.29 L255.10 622.78 L257.34 621.27 L259.58 619.76 L261.82 618.25 L264.06 616.73 L266.30 615.22 L268.54 613.71 L270.78 612.20 L273.02 610.69 L275.26 609.18 L277.50 607.67 L279.74 606.15 L281.98 604.64 L284.22 603.13 L286.46 601.62 L288.70 600.11 L290.94 598.60 L293.18 597.09 L295.42 595.57 L297.66 594.06 L299.90 592.55 L302.14 591.04 L304.38 589.53 L306.62 588.02 L308.86 586.51 L311.10 584.99 L313.34 583.48 L315.58 581.97 L317.82 580.46 L320.06 578.95 L322.30 577.44 L324.54 575.93 L326.78 574.41 L329.02 572.90 L331.26 571.39 L333.50 569.88 L335.74 568.37 L337.98 566.86 L340.22 565.35 L342.46 563.83 L344.70 562.32 L346.94 560.81 L349.18 559.30 L351.42 557.79 L353.67 556.28 L355.91 554.77 L358.15 553.25 L360.39 551.74 L362.63 550.23 L364.87 548.72 L367.11 547.21 L369.35 545.70 L371.59 544.19 L373.83 542.67 L376.07 541.16 L378.31 539.65 L380.55 538.14 L382.79 536.63 L385.03 535.12 L387.27 533.61 L389.51 532.09 L391.75 530.58 L393.99 529.07 L396.23 527.56 L398.47 526.05 L400.71 524.54 L402.95 523.03 L405.19 521.51 L407.43 520.00 L409.67 518.49 L411.91 516.98 L414.15 515.47 L416.39 513.96 L418.63 512.45 L420.87 510.93 L423.11 509.42 L425.35 507.91 L427.59 506.40 L429.83 504.89 L432.07 503.38 L434.31 501.87 L436.55 500.35 L438.79 498.84 L441.03 497.33 L443.27 495.82 L445.51 494.31 L447.75 492.80 L449.99 491.29 L452.23 489.77 L454.47 488.26 L456.71 486.75 L458.95 485.24 L461.19 483.73 L463.43 482.22 L465.67 480.71 L467.91 479.19 L470.15 477.68 L472.39 476.17 L474.63 474.66 L476.87 473.15 L479.11 471.64 L481.35 470.13 L483.59 468.61 L485.83 467.10 L488.07 465.59 L490.31 464.08 L492.55 462.57 L494.79 461.06 L497.03 459.55 L499.27 458.03 L501.51 456.52 L503.75 455.01 L505.99 453.50 L508.23 451.99 L510.47 450.48 L512.71 448.97 L514.95 447.45 L517.20 445.94 L519.44 444.43 L521.68 442.92 L523.92 441.41 L526.16 439.90 L528.40 438.39 L530.64 436.87 L532.88 435.36 L535.12 433.85 L537.36 432.34 L539.60 430.83 L541.84 429.32 L544.08 427.81 L546.32 426.29 L548.56 424.78 L550.80 423.27 L553.04 421.76 L555.28 420.25 L557.52 418.74 L559.76 417.23 L562.00 415.71 L564.24 414.20 L566.48 412.69 L568.72 411.18 L570.96 409.67 L573.20 408.16 L575.44 406.65 L577.68 405.13 L579.92 403.62 L582.16 402.11 L584.40 400.60 L586.64 399.09 L588.88 397.58 L591.12 396.07 L593.36 394.55 L595.60 393.04 L597.84 391.53 L600.08 390.02 L602.32 388.51 L604.56 387.00 L606.80 385.49 L609.04 383.97 L611.28 382.46 L613.52 380.95 L615.76 379.44 L618.00 377.93 L620.24 376.42 L622.48 374.91 L624.72 373.39 L626.96 371.88 L629.20 370.37 L631.44 368.86 L633.68 367.35 L635.92 365.84 L638.16 364.33 L640.40 362.81 L642.64 361.30 L644.88 359.79 L647.12 358.28 L649.36 356.77 L651.60 355.26 L653.84 353.75 L656.08 352.23 L658.32 350.72 L660.56 349.21 L662.80 347.70 L665.04 346.19 L667.28 344.68 L669.52 343.17 L671.76 341.65 L674.00 340.14 L676.24 338.63 L678.49 337.12 L680.73 335.61 L682.97 334.10 L685.21 332.59 L687.45 331.07 L689.69 329.56 L691.93 328.05 L694.17 326.54 L696.41 325.03 L698.65 323.52 L700.89 322.01 L703.13 320.49 L705.37 318.98 L707.61 317.47 L709.85 315.96 L712.09 314.45 L714.33 312.94 L716.57 311.43 L718.81 309.92 L721.05 308.40 L723.29 306.89 L725.53 305.38 L727.77 303.87 L730.01 302.36 L732.25 300.85 L734.49 299.34 L736.73 297.83 L738.97 296.31 L741.21 294.80 L743.45 293.29 L745.69 291.78 L747.93 290.27 L750.17 288.76 L752.41 287.25 L754.65 285.74 L756.89 284.22 L759.13 282.71 L761.37 281.20 L763.61 279.69 L765.85 278.18 L768.09 276.67 L770.33 275.16 L772.57 273.65 L774.81 272.14 L777.05 270.63 L779.29 269.12 L781.53 267.60 L783.77 266.09 L786.01 264.58 L788.25 263.07 L790.49 261.56 L792.73 260.05 L794.97 258.54 L797.21 257.03 L799.45 255.52 L801.69 254.01 L803.93 252.50 L806.17 250.99 L808.41 249.48 L810.65 247.97 L812.89 246.46 L815.13 244.95 L817.37 243.44 L819.61 241.93 L821.85 240.42 L824.09 238.92 L826.33 237.41 L828.57 235.90 L830.81 234.39 L833.05 232.88 L835.29 231.37 L837.53 229.87 L839.77 228.36 L842.02 226.85 L844.26 225.35 L846.50 223.84 L848.74 222.33 L850.98 220.83 L853.22 219.32 L855.46 217.82 L857.70 216.31 L859.94 214.81 L862.18 213.30 L864.42 211.80 L866.66 210.30 L868.90 208.80 L871.14 207.30 L873.38 205.80 L875.62 204.30 L877.86 202.80 L880.10 201.30 L882.34 199.80 L884.58 198.31 L886.82 196.81 L889.06 195.32 L891.30 193.83 L893.54 192.33 L895.78 190.84 L898.02 189.36 L900.26 187.87 L902.50 186.38 L904.74 184.90 L906.98 183.42 L909.22 181.94 L911.46 180.46 L913.70 178.99 L915.94 177.51 L918.18 176.04 L920.42 174.58 L922.66 173.11 L924.90 171.65 L927.14 170.19 L929.38 168.74 L931.62 167.29 L933.86 165.84 L936.10 164.40 L938.34 162.96 L940.58 161.53 L942.82 160.11 L945.06 158.68 L947.30 157.27 L949.54 155.86 L951.78 154.46 L954.02 153.06 L956.26 151.67 L958.50 150.29 L960.74 148.92 L962.98 147.55 L965.22 146.20 L967.46 144.86 L969.70 143.52 L971.94 142.20 L974.18 140.88 L976.42 139.58 L978.66 138.30 L980.90 137.02 L983.14 135.76 L985.38 134.52 L987.62 133.29 L989.86 132.07 L992.10 130.87 L994.34 129.69 L996.58 128.53 L998.82 127.38 L1001.06 126.26 L1003.30 125.15 L1005.55 124.07 L1007.79 123.00 L1010.03 121.96 L1012.27 120.94 L1014.51 119.95 L1016.75 118.97 L1018.99 118.03 L1021.23 117.10 L1023.47 116.21 L1025.71 115.33 L1027.95 114.49 L1030.19 113.67 L1032.43 112.88 L1034.67 112.11 L1036.91 111.37 L1039.15 110.66 L1041.39 109.98 L1043.63 109.32 L1045.87 108.70 L1048.11 108.10 L1050.35 107.52 L1052.59 106.98 L1054.83 106.46 L1055.06 106.41 L1055.22 106.37 L1055.37 106.34 L1055.52 106.30 L1055.68 106.27 L1055.83 106.24 L1055.98 106.20 L1056.14 106.17 L1056.29 106.13 L1056.45 106.10 L1056.60 106.07 L1056.75 106.03 L1056.91 106.00 L1057.06 105.97 L1057.07 105.97 L1057.21 105.94 L1057.37 105.90 L1057.52 105.87 L1057.68 105.84 L1057.83 105.81 L1057.98 105.77 L1058.14 105.74 L1058.29 105.71 L1058.44 105.68 L1058.60 105.65 L1058.75 105.62 L1058.91 105.58 L1059.06 105.55 L1059.21 105.52 L1059.31 105.50 L1059.37 105.49 L1059.52 105.46 L1059.67 105.43 L1059.83 105.40 L1059.98 105.37 L1060.14 105.34 L1060.29 105.31 L1060.44 105.28 L1060.60 105.25 L1060.75 105.22 L1060.90 105.19 L1061.06 105.16 L1061.21 105.13 L1061.37 105.10 L1061.52 105.07 L1061.55 105.07 L1061.67 105.04 L1061.83 105.01 L1061.98 104.98 L1062.13 104.96 L1062.29 104.93 L1062.44 104.90 L1062.60 104.87 L1062.75 104.84 L1062.90 104.81 L1063.06 104.79 L1063.21 104.76 L1063.36 104.73 L1063.52 104.70 L1063.67 104.67 L1063.79 104.65 L1063.83 104.65 L1063.98 104.62 L1064.13 104.59 L1064.29 104.57 L1064.44 104.54 L1064.59 104.51 L1064.75 104.49 L1064.90 104.46 L1065.06 104.43 L1065.21 104.41 L1065.36 104.38 L1065.52 104.35 L1065.67 104.33 L1065.82 104.30 L1065.98 104.28 L1066.03 104.27 L1066.13 104.25 L1066.29 104.23 L1066.44 104.20 L1066.59 104.18 L1066.75 104.15 L1066.90 104.13 L1067.05 104.10 L1067.21 104.08 L1067.36 104.05 L1067.52 104.03 L1067.67 104.00 L1067.82 103.98 L1067.98 103.95 L1068.13 103.93 L1068.27 103.91 L1068.28 103.91 L1068.44 103.88 L1068.59 103.86 L1068.75 103.84 L1068.90 103.81 L1069.05 103.79 L1069.21 103.77 L1069.36 103.74 L1069.51 103.72 L1069.67 103.70 L1069.82 103.67 L1069.98 103.65 L1070.13 103.63 L1070.28 103.61 L1070.44 103.58 L1070.51 103.57 L1070.59 103.56 L1070.74 103.54 L1070.90 103.52 L1071.05 103.50 L1071.21 103.48 L1071.36 103.45 L1071.51 103.43 L1071.67 103.41 L1071.82 103.39 L1071.97 103.37 L1072.13 103.35 L1072.28 103.33 L1072.44 103.31 L1072.59 103.29 L1072.74 103.27 L1072.75 103.27 L1072.90 103.25 L1073.05 103.23 L1073.20 103.21 L1073.36 103.19 L1073.51 103.17 L1073.67 103.15 L1073.82 103.13 L1073.97 103.11 L1074.13 103.09 L1074.28 103.07 L1074.43 103.05 L1074.59 103.03 L1074.74 103.01 L1074.90 102.99 L1074.99 102.98 L1075.05 102.97 L1075.20 102.96 L1075.36 102.94 L1075.51 102.92 L1075.66 102.90 L1075.82 102.88 L1075.97 102.86 L1076.13 102.85 L1076.28 102.83 L1076.43 102.81 L1076.59 102.79 L1076.74 102.78 L1076.89 102.76 L1077.05 102.74 L1077.20 102.72 L1077.23 102.72 L1077.36 102.71 L1077.51 102.69 L1077.66 102.67 L1077.82 102.66 L1077.97 102.64 L1078.12 102.62 L1078.28 102.61 L1078.43 102.59 L1078.59 102.58 L1078.74 102.56 L1078.89 102.54 L1079.05 102.53 L1079.20 102.51 L1079.35 102.50 L1079.47 102.49 L1079.51 102.48 L1079.66 102.47 L1079.82 102.45 L1079.97 102.44 L1080.12 102.42 L1080.28 102.41 L1080.43 102.39 L1080.58 102.38 L1080.74 102.36 L1080.89 102.35 L1081.05 102.33 L1081.20 102.32 L1081.35 102.31 L1081.51 102.29 L1081.66 102.28 L1081.71 102.27 L1081.81 102.27 L1081.97 102.25 L1082.12 102.24 L1082.28 102.23 L1082.43 102.21 L1082.58 102.20 L1082.74 102.19 L1082.89 102.17 L1083.04 102.16 L1083.20 102.15 L1083.35 102.13 L1083.51 102.12 L1083.66 102.11 L1083.81 102.10 L1083.95 102.09 L1083.97 102.09 L1084.12 102.07 L1084.27 102.06 L1084.43 102.05 L1084.58 102.04 L1084.74 102.03 L1084.89 102.02 L1085.04 102.00 L1085.20 101.99 L1085.35 101.98 L1085.50 101.97 L1085.66 101.96 L1085.81 101.95 L1085.97 101.94 L1086.12 101.93 L1086.19 101.92 L1086.27 101.92 L1086.43 101.91 L1086.58 101.90 L1086.73 101.89 L1086.89 101.88 L1087.04 101.87 L1087.20 101.86 L1087.35 101.85 L1087.50 101.84 L1087.66 101.83 L1087.81 101.82 L1087.96 101.81 L1088.12 101.80 L1088.27 101.79 L1088.43 101.78 L1088.43 101.78 L1088.58 101.77 L1088.73 101.76 L1088.89 101.76 L1089.04 101.75 L1089.19 101.74 L1089.35 101.73 L1089.50 101.72 L1089.66 101.71 L1089.81 101.71 L1089.96 101.70 L1090.12 101.69 L1090.27 101.68 L1090.42 101.68 L1090.58 101.67 L1090.67 101.66 L1090.73 101.66 L1090.89 101.65 L1091.04 101.65 L1091.19 101.64 L1091.35 101.63 L1091.50 101.63 L1091.65 101.62 L1091.81 101.61 L1091.96 101.61 L1092.12 101.60 L1092.27 101.59 L1092.42 101.59 L1092.58 101.58 L1092.73 101.58 L1092.88 101.57 L1092.91 101.57 L1093.04 101.56 L1093.19 101.56 L1093.35 101.55 L1093.50 101.55 L1093.65 101.54 L1093.81 101.54 L1093.96 101.53 L1094.11 101.53 L1094.27 101.52 L1094.42 101.52 L1094.58 101.51 L1094.73 101.51 L1094.88 101.50 L1095.04 101.50 L1095.15 101.50 L1095.19 101.50 L1095.34 101.49 L1095.50 101.49 L1095.65 101.48 L1095.81 101.48 L1095.96 101.48 L1096.11 101.47 L1096.27 101.47 L1096.42 101.47 L1096.57 101.46 L1096.73 101.46 L1096.88 101.46 L1097.04 101.45 L1097.19 101.45 L1097.34 101.45 L1097.39 101.45 L1097.50 101.45 L1097.65 101.44 L1097.80 101.44 L1097.96 101.44 L1098.11 101.44 L1098.27 101.43 L1098.42 101.43 L1098.57 101.43 L1098.73 101.43 L1098.88 101.43 L1099.03 101.43 L1099.19 101.42 L1099.34 101.42 L1099.50 101.42 L1099.63 101.42 L1099.65 101.42 L1099.80 101.42 L1099.96 101.42 L1100.11 101.42 L1100.26 101.42 L1100.42 101.42 L1100.57 101.42 L1100.73 101.42 L1100.88 101.42 L1101.03 101.42 L1101.19 101.42 L1101.34 101.42 L1101.49 101.42 L1101.65 101.42 L1101.80 101.42 L1101.87 101.42 L1101.96 101.42 L1102.11 101.42 L1102.26 101.42 L1102.42 101.42 L1102.57 101.42 L1102.72 101.42 L1102.88 101.42 L1103.03 101.42 L1103.19 101.42 L1103.34 101.43 L1103.49 101.43 L1103.65 101.43 L1103.80 101.43 L1103.95 101.43 L1104.11 101.43 L1104.11 101.43 L1104.26 101.44 L1104.42 101.44 L1104.57 101.44 L1104.72 101.44 L1104.88 101.45 L1105.03 101.45 L1105.18 101.45 L1105.34 101.45 L1105.49 101.46 L1105.65 101.46 L1105.80 101.46 L1105.95 101.47 L1106.11 101.47 L1106.26 101.47 L1106.35 101.48 L1106.41 101.48 L1106.57 101.48 L1106.72 101.48 L1106.88 101.49 L1107.03 101.49 L1107.18 101.50 L1107.34 101.50 L1107.49 101.50 L1107.64 101.51 L1107.80 101.51 L1107.95 101.52 L1108.11 101.52 L1108.26 101.53 L1108.41 101.53 L1108.57 101.54 L1108.59 101.54 L1108.72 101.54 L1108.87 101.55 L1109.03 101.55 L1109.18 101.56 L1109.34 101.56 L1109.49 101.57 L1109.64 101.58 L1109.80 101.58 L1109.95 101.59 L1110.10 101.59 L1110.26 101.60 L1110.41 101.61 L1110.57 101.61 L1110.72 101.62 L1110.83 101.62 L1110.87 101.63 L1111.03 101.63 L1111.18 101.64 L1111.33 101.65 L1111.49 101.65 L1111.64 101.66 L1111.80 101.67 L1111.95 101.68 L1112.10 101.68 L1112.26 101.69 L1112.41 101.70 L1112.56 101.71 L1112.72 101.71 L1112.87 101.72 L1113.03 101.73 L1113.07 101.73 L1113.18 101.74 L1113.33 101.75 L1113.49 101.76 L1113.64 101.76 L1113.79 101.77 L1113.95 101.78 L1114.10 101.79 L1114.26 101.80 L1114.41 101.81 L1114.56 101.82 L1114.72 101.83 L1114.87 101.84 L1115.02 101.85 L1115.18 101.86 L1115.31 101.87 L1115.33 101.87 L1115.49 101.88 L1115.64 101.89 L1115.79 101.90 L1115.95 101.91 L1116.10 101.92 L1116.25 101.93 L1116.41 101.94 L1116.56 101.95 L1116.72 101.96 L1116.87 101.97 L1117.02 101.98 L1117.18 101.99 L1117.33 102.00 L1117.48 102.02 L1117.55 102.02 L1117.64 102.03 L1117.79 102.04 L1117.95 102.05 L1118.10 102.06 L1118.25 102.07 L1118.41 102.09 L1118.56 102.10 L1118.71 102.11 L1118.87 102.12 L1119.02 102.13 L1119.18 102.15 L1119.33 102.16 L1119.48 102.17 L1119.64 102.19 L1119.79 102.20 L1119.79 102.20 L1119.94 102.21 L1120.10 102.23 L1120.25 102.24 L1120.41 102.25 L1120.56 102.27 L1120.71 102.28 L1120.87 102.29 L1121.02 102.31 L1121.17 102.32 L1121.33 102.33 L1121.48 102.35 L1121.64 102.36 L1121.79 102.38 L1121.94 102.39 L1122.03 102.40 L1122.10 102.41 L1122.25 102.42 L1122.40 102.44 L1122.56 102.45 L1122.71 102.47 L1122.87 102.48 L1123.02 102.50 L1123.17 102.51 L1123.33 102.53 L1123.48 102.54 L1123.63 102.56 L1123.79 102.58 L1123.94 102.59 L1124.10 102.61 L1124.25 102.62 L1124.27 102.63 L1124.40 102.64 L1124.56 102.66 L1124.71 102.67 L1124.86 102.69 L1125.02 102.71 L1125.17 102.72 L1125.33 102.74 L1125.48 102.76 L1125.63 102.78 L1125.79 102.79 L1125.94 102.81 L1126.09 102.83 L1126.25 102.85 L1126.40 102.86 L1126.51 102.88 L1126.56 102.88 L1126.71 102.90 L1126.86 102.92 L1127.02 102.94 L1127.17 102.96 L1127.32 102.97 L1127.48 102.99 L1127.63 103.01 L1127.79 103.03 L1127.94 103.05 L1128.09 103.07 L1128.25 103.09 L1128.40 103.11 L1128.55 103.13 L1128.71 103.15 L1128.75 103.15 L1128.86 103.17 L1129.02 103.19 L1129.17 103.21 L1129.32 103.23 L1129.48 103.25 L1129.63 103.27 L1129.78 103.29 L1129.94 103.31 L1130.09 103.33 L1130.25 103.35 L1130.40 103.37 L1130.55 103.39 L1130.71 103.41 L1130.86 103.43 L1130.99 103.45 L1131.01 103.45 L1131.17 103.48 L1131.32 103.50 L1131.48 103.52 L1131.63 103.54 L1131.78 103.56 L1131.94 103.58 L1132.09 103.61 L1132.24 103.63 L1132.40 103.65 L1132.55 103.67 L1132.71 103.70 L1132.86 103.72 L1133.01 103.74 L1133.17 103.77 L1133.23 103.78 L1133.32 103.79 L1133.47 103.81 L1133.63 103.84 L1133.78 103.86 L1133.94 103.88 L1134.09 103.91 L1134.24 103.93 L1134.40 103.95 L1134.55 103.98 L1134.70 104.00 L1134.86 104.03 L1135.01 104.05 L1135.17 104.08 L1135.32 104.10 L1135.47 104.13 L1135.47 104.13 L1135.63 104.15 L1135.78 104.18 L1135.93 104.20 L1136.09 104.23 L1136.24 104.25 L1136.40 104.28 L1136.55 104.30 L1136.70 104.33 L1136.86 104.35 L1137.01 104.38 L1137.16 104.41 L1137.32 104.43 L1137.47 104.46 L1137.63 104.49 L1137.71 104.50 L1137.78 104.51 L1137.93 104.54 L1138.09 104.57 L1138.24 104.59 L1138.39 104.62 L1138.55 104.65 L1138.70 104.67 L1138.86 104.70 L1139.01 104.73 L1139.16 104.76 L1139.32 104.79 L1139.47 104.81 L1139.62 104.84 L1139.78 104.87 L1139.93 104.90 L1139.95 104.90 L1140.09 104.93 L1140.24 104.96 L1140.39 104.98 L1140.55 105.01 L1140.70 105.04 L1140.85 105.07 L1141.01 105.10 L1141.16 105.13 L1141.32 105.16 L1141.47 105.19 L1141.62 105.22 L1141.78 105.25 L1141.93 105.28 L1142.08 105.31 L1142.19 105.33 L1142.24 105.34 L1142.39 105.37 L1142.55 105.40 L1142.70 105.43 L1142.85 105.46 L1143.01 105.49 L1143.16 105.52 L1143.31 105.55 L1143.47 105.58 L1143.62 105.62 L1143.78 105.65 L1143.93 105.68 L1144.08 105.71 L1144.24 105.74 L1144.39 105.77 L1144.43 105.78 L1144.54 105.81 L1144.70 105.84 L1144.85 105.87 L1145.01 105.90 L1145.16 105.94 L1145.31 105.97 L1145.47 106.00 L1145.62 106.03 L1145.77 106.07 L1145.93 106.10 L1146.08 106.13 L1146.24 106.17 L1146.39 106.20 L1146.54 106.24 L1146.67 106.26 L1146.70 106.27 L1146.85 106.30 L1147.00 106.34 L1147.16 106.37 L1147.31 106.41 L1148.91 106.77 L1151.15 107.31 L1153.39 107.87 L1155.63 108.46 L1157.87 109.08 L1160.11 109.72 L1162.35 110.39 L1164.59 111.09 L1166.83 111.82 L1169.08 112.58 L1171.32 113.36 L1173.56 114.17 L1175.80 115.00 L1178.04 115.86 L1180.28 116.75 L1182.52 117.66 L1184.76 118.60 L1187.00 119.56 L1189.24 120.55 L1191.48 121.56 L1193.72 122.59 L1195.96 123.65 L1198.20 124.73 L1200.44 125.82 L1202.68 126.94 L1204.92 128.08 L1207.16 129.24 L1209.40 130.41 L1211.64 131.60 L1213.88 132.81 L1216.12 134.04 L1218.36 135.28 L1220.60 136.53 L1222.84 137.80 L1225.08 139.08 L1227.32 140.38 L1229.56 141.69 L1231.80 143.00 L1234.04 144.33 L1236.28 145.68 L1238.52 147.03 L1240.76 148.39 L1243.00 149.76 L1245.24 151.13 L1247.48 152.52 L1249.72 153.91 L1251.96 155.31 L1254.20 156.72 L1256.44 158.13 L1258.68 159.55 L1260.92 160.98 L1263.16 162.41 L1265.40 163.84 L1267.64 165.28 L1269.88 166.73 L1272.12 168.17 L1274.36 169.63 L1276.60 171.08 L1278.84 172.54 L1281.08 174.01 L1283.32 175.47 L1285.56 176.94 L1287.80 178.41 L1290.04 179.89 L1292.28 181.36 L1294.52 182.84 L1296.76 184.32 L1299.00 185.81 L1301.24 187.29 L1303.48 188.78 L1305.72 190.26 L1307.96 191.75 L1310.20 193.24 L1312.44 194.74 L1314.68 196.23 L1316.92 197.72 L1319.16 199.22 L1321.40 200.72 L1323.64 202.21 L1325.88 203.71 L1328.12 205.21 L1330.37 206.71 L1332.61 208.21 L1334.85 209.71 L1337.09 211.22 L1339.33 212.72 L1341.57 214.22 L1343.81 215.73 L1346.05 217.23 L1348.29 218.74 L1350.53 220.24 L1352.77 221.75 L1355.01 223.25 L1357.25 224.76 L1359.49 226.27 L1361.73 227.77 L1363.97 229.28 L1366.21 230.79 L1368.45 232.30 L1370.69 233.80" fill="none" stroke="#8FB032" stroke-width="11.90" stroke-linejoin="round" stroke-linecap="butt"/>
<path d="M254 92H258V107H254Z M254 769H258V785H254Z M420 92H423V98H420Z M420 778H423V785H420Z M464 92H467V98H464Z M464 778H467V785H464Z M490 92H493V98H490Z M490 778H493V785H490Z M509 92H512V98H509Z M509 778H512V785H509Z M523 92H526V98H523Z M523 778H526V785H523Z M535 92H538V98H535Z M535 778H538V785H535Z M545 92H548V98H545Z M545 778H548V785H545Z M554 92H557V98H554Z M554 778H557V785H554Z M562 92H565V107H562Z M562 769H565V785H562Z M728 92H731V98H728Z M728 778H731V785H728Z M771 92H774V98H771Z M771 778H774V785H771Z M797 92H800V98H797Z M797 778H800V785H797Z M816 92H819V98H816Z M816 778H819V785H816Z M831 92H834V98H831Z M831 778H834V785H831Z M843 92H846V98H843Z M843 778H846V785H843Z M853 92H856V98H853Z M853 778H856V785H853Z M862 92H865V98H862Z M862 778H865V785H862Z M869 92H873V107H869Z M869 769H873V785H869Z M1035 92H1038V98H1035Z M1035 778H1038V785H1035Z M1079 92H1082V98H1079Z M1079 778H1082V785H1079Z M1105 92H1108V98H1105Z M1105 778H1108V785H1105Z M1124 92H1127V98H1124Z M1124 778H1127V785H1124Z M1138 92H1141V98H1138Z M1138 778H1141V785H1138Z M1150 92H1153V98H1150Z M1150 778H1153V785H1150Z M1160 92H1163V98H1160Z M1160 778H1163V785H1160Z M1169 92H1172V98H1169Z M1169 778H1172V785H1169Z M1177 92H1180V107H1177Z M1177 769H1180V785H1177Z M231 106H247V109H231Z M1374 106H1390V109H1374Z M231 243H247V247H231Z M1374 243H1390V247H1374Z M231 381H247V384H231Z M1374 381H1390V384H1374Z M231 518H247V521H231Z M1374 518H1390V521H1374Z M231 656H247V659H231Z M1374 656H1390V659H1374Z M231 766H239V769H231Z M1382 766H1390V769H1382Z M231 738H239V741H231Z M1382 738H1390V741H1382Z M231 711H239V714H231Z M1382 711H1390V714H1382Z M231 683H239V686H231Z M1382 683H1390V686H1382Z M231 628H239V631H231Z M1382 628H1390V631H1382Z M231 601H239V604H231Z M1382 601H1390V604H1382Z M231 573H239V576H231Z M1382 573H1390V576H1382Z M231 546H239V549H231Z M1382 546H1390V549H1382Z M231 491H239V494H231Z M1382 491H1390V494H1382Z M231 463H239V466H231Z M1382 463H1390V466H1382Z M231 436H239V439H231Z M1382 436H1390V439H1382Z M231 408H239V411H231Z M1382 408H1390V411H1382Z M231 353H239V357H231Z M1382 353H1390V357H1382Z M231 326H239V329H231Z M1382 326H1390V329H1382Z M231 298H239V302H231Z M1382 298H1390V302H1382Z M231 271H239V274H231Z M1382 271H1390V274H1382Z M231 216H239V219H231Z M1382 216H1390V219H1382Z M231 188H239V192H231Z M1382 188H1390V192H1382Z M231 161H239V164H231Z M1382 161H1390V164H1382Z M231 133H239V137H231Z M1382 133H1390V137H1382Z M231 92H235V785H231Z M1387 92H1390V785H1387Z M231 92H1390V95H231Z M231 781H1390V785H231Z" fill="#000"/>
<path transform="scale(1 1.0900)" d="M248.61 863.66 L250.85 863.66 L253.10 863.66 L255.34 863.66 L257.59 863.66 L259.83 863.66 L262.08 863.66 L264.32 863.66 L266.57 863.66 L268.81 863.66 L271.06 863.66 L273.30 863.66 L275.55 863.66 L277.79 863.66 L280.04 863.66 L282.28 863.66 L284.53 863.66 L286.77 863.66 L289.02 863.66 L291.26 863.66 L293.51 863.66 L295.75 863.66 L298.00 863.66 L300.24 863.66 L302.49 863.66 L304.73 863.66 L306.98 863.66 L309.22 863.66 L311.47 863.66 L313.71 863.66 L315.96 863.66 L318.20 863.66 L320.45 863.66 L322.69 863.66 L324.94 863.66 L327.18 863.66 L329.43 863.66 L331.67 863.66 L333.92 863.66 L336.16 863.66 L338.41 863.66 L340.65 863.66 L342.89 863.66 L345.14 863.66 L347.38 863.66 L349.63 863.66 L351.87 863.66 L354.12 863.66 L356.36 863.66 L358.61 863.66 L360.85 863.66 L363.10 863.66 L365.34 863.66 L367.59 863.66 L369.83 863.66 L372.08 863.66 L374.32 863.66 L376.57 863.66 L378.81 863.66 L381.06 863.66 L383.30 863.66 L385.55 863.66 L387.79 863.66 L390.04 863.66 L392.28 863.66 L394.53 863.66 L396.77 863.66 L399.02 863.66 L401.26 863.66 L403.51 863.66 L405.75 863.66 L408.00 863.66 L410.24 863.66 L412.49 863.66 L414.73 863.66 L416.98 863.66 L419.22 863.66 L421.47 863.66 L423.71 863.66 L425.96 863.66 L428.20 863.66 L430.45 863.66 L432.69 863.66 L434.94 863.66 L437.18 863.66 L439.43 863.66 L441.67 863.66 L443.92 863.66 L446.16 863.66 L448.41 863.66 L450.65 863.66 L452.90 863.66 L455.14 863.66 L457.39 863.66 L459.63 863.66 L461.88 863.66 L464.12 863.66 L466.37 863.66 L468.61 863.67 L470.86 863.67 L473.10 863.67 L475.35 863.67 L477.59 863.67 L479.84 863.67 L482.08 863.67 L484.33 863.67 L486.57 863.67 L488.82 863.67 L491.06 863.67 L493.31 863.67 L495.55 863.67 L497.80 863.67 L500.04 863.67 L502.29 863.67 L504.53 863.67 L506.78 863.67 L509.02 863.67 L511.27 863.67 L513.51 863.67 L515.76 863.67 L518.00 863.67 L520.25 863.67 L522.49 863.67 L524.74 863.67 L526.98 863.67 L529.23 863.67 L531.47 863.67 L533.72 863.67 L535.96 863.67 L538.21 863.67 L540.45 863.67 L542.70 863.67 L544.94 863.67 L547.18 863.68 L549.43 863.68 L551.67 863.68 L553.92 863.68 L556.16 863.68 L558.41 863.68 L560.65 863.68 L562.90 863.68 L565.14 863.68 L567.39 863.68 L569.63 863.68 L571.88 863.68 L574.12 863.68 L576.37 863.68 L578.61 863.68 L580.86 863.69 L583.10 863.69 L585.35 863.69 L587.59 863.69 L589.84 863.69 L592.08 863.69 L594.33 863.69 L596.57 863.69 L598.82 863.69 L601.06 863.69 L603.31 863.69 L605.55 863.70 L607.80 863.70 L610.04 863.70 L612.29 863.70 L614.53 863.70 L616.78 863.70 L619.02 863.70 L621.27 863.71 L623.51 863.71 L625.76 863.71 L628.00 863.71 L630.25 863.71 L632.49 863.71 L634.74 863.72 L636.98 863.72 L639.23 863.72 L641.47 863.72 L643.72 863.72 L645.96 863.73 L648.21 863.73 L650.45 863.73 L652.70 863.73 L654.94 863.73 L657.19 863.74 L659.43 863.74 L661.68 863.74 L663.92 863.75 L666.17 863.75 L668.41 863.75 L670.66 863.75 L672.90 863.76 L675.15 863.76 L677.39 863.76 L679.64 863.77 L681.88 863.77 L684.13 863.78 L686.37 863.78 L688.62 863.78 L690.86 863.79 L693.11 863.79 L695.35 863.80 L697.60 863.80 L699.84 863.81 L702.09 863.81 L704.33 863.82 L706.58 863.82 L708.82 863.83 L711.07 863.83 L713.31 863.84 L715.56 863.84 L717.80 863.85 L720.05 863.86 L722.29 863.86 L724.54 863.87 L726.78 863.88 L729.03 863.88 L731.27 863.89 L733.52 863.90 L735.76 863.91 L738.01 863.92 L740.25 863.93 L742.50 863.93 L744.74 863.94 L746.99 863.95 L749.23 863.96 L751.48 863.97 L753.72 863.98 L755.96 864.00 L758.21 864.01 L760.45 864.02 L762.70 864.03 L764.94 864.04 L767.19 864.06 L769.43 864.07 L771.68 864.08 L773.92 864.10 L776.17 864.11 L778.41 864.13 L780.66 864.15 L782.90 864.16 L785.15 864.18 L787.39 864.20 L789.64 864.22 L791.88 864.23 L794.13 864.25 L796.37 864.27 L798.62 864.29 L800.86 864.32 L803.11 864.34 L805.35 864.36 L807.60 864.39 L809.84 864.41 L812.09 864.44 L814.33 864.46 L816.58 864.49 L818.82 864.52 L821.07 864.55 L823.31 864.58 L825.56 864.61 L827.80 864.64 L830.05 864.68 L832.29 864.71 L834.54 864.75 L836.78 864.78 L839.03 864.82 L841.27 864.86 L843.52 864.90 L845.76 864.94 L848.01 864.99 L850.25 865.03 L852.50 865.08 L854.74 865.13 L856.99 865.18 L859.23 865.23 L861.48 865.28 L863.72 865.34 L865.97 865.40 L868.21 865.46 L870.46 865.52 L872.70 865.58 L874.95 865.65 L877.19 865.72 L879.44 865.79 L881.68 865.86 L883.93 865.93 L886.17 866.01 L888.42 866.09 L890.66 866.17 L892.91 866.26 L895.15 866.35 L897.40 866.44 L899.64 866.54 L901.89 866.64 L904.13 866.74 L906.38 866.84 L908.62 866.95 L910.87 867.07 L913.11 867.18 L915.36 867.30 L917.60 867.43 L919.85 867.56 L922.09 867.69 L924.34 867.83 L926.58 867.98 L928.83 868.12 L931.07 868.28 L933.32 868.44 L935.56 868.60 L937.81 868.77 L940.05 868.95 L942.30 869.14 L944.54 869.33 L946.79 869.52 L949.03 869.73 L951.28 869.94 L953.52 870.16 L955.77 870.38 L958.01 870.62 L960.25 870.86 L962.50 871.12 L964.74 871.38 L966.99 871.65 L969.23 871.94 L971.48 872.23 L973.72 872.54 L975.97 872.85 L978.21 873.18 L980.46 873.52 L982.70 873.88 L984.95 874.25 L987.19 874.63 L989.44 875.04 L991.68 875.45 L993.93 875.89 L996.17 876.34 L998.42 876.81 L1000.66 877.31 L1002.91 877.82 L1005.15 878.36 L1007.40 878.92 L1009.64 879.51 L1011.89 880.13 L1014.13 880.78 L1016.38 881.46 L1018.62 882.17 L1020.87 882.92 L1023.11 883.72 L1025.36 884.55 L1027.60 885.43 L1029.85 886.36 L1032.09 887.35 L1034.34 888.40 L1036.58 889.51 L1038.83 890.70 L1041.07 891.97 L1043.32 893.33 L1045.56 894.78 L1047.81 896.35 L1050.05 898.04 L1052.30 899.88 L1054.54 901.87 L1054.78 902.09 L1054.93 902.23 L1055.09 902.38 L1055.24 902.52 L1055.39 902.67 L1055.55 902.82 L1055.70 902.97 L1055.86 903.12 L1056.01 903.27 L1056.16 903.42 L1056.32 903.57 L1056.47 903.72 L1056.63 903.88 L1056.78 904.03 L1056.79 904.04 L1056.93 904.19 L1057.09 904.35 L1057.24 904.51 L1057.40 904.67 L1057.55 904.83 L1057.70 904.99 L1057.86 905.15 L1058.01 905.31 L1058.17 905.48 L1058.32 905.64 L1058.47 905.81 L1058.63 905.98 L1058.78 906.15 L1058.94 906.32 L1059.03 906.42 L1059.09 906.49 L1059.25 906.66 L1059.40 906.84 L1059.55 907.01 L1059.71 907.19 L1059.86 907.36 L1060.02 907.54 L1060.17 907.72 L1060.32 907.90 L1060.48 908.08 L1060.63 908.27 L1060.79 908.45 L1060.94 908.64 L1061.09 908.82 L1061.25 909.01 L1061.28 909.05 L1061.40 909.20 L1061.56 909.39 L1061.71 909.58 L1061.86 909.78 L1062.02 909.97 L1062.17 910.17 L1062.33 910.37 L1062.48 910.57 L1062.63 910.77 L1062.79 910.97 L1062.94 911.17 L1063.10 911.38 L1063.25 911.58 L1063.41 911.79 L1063.52 911.95 L1063.56 912.00 L1063.71 912.21 L1063.87 912.43 L1064.02 912.64 L1064.18 912.86 L1064.33 913.07 L1064.48 913.29 L1064.64 913.51 L1064.79 913.73 L1064.95 913.96 L1065.10 914.18 L1065.25 914.41 L1065.41 914.64 L1065.56 914.87 L1065.72 915.11 L1065.77 915.18 L1065.87 915.34 L1066.02 915.58 L1066.18 915.82 L1066.33 916.06 L1066.49 916.30 L1066.64 916.54 L1066.80 916.79 L1066.95 917.04 L1067.10 917.29 L1067.26 917.54 L1067.41 917.79 L1067.57 918.05 L1067.72 918.31 L1067.87 918.57 L1068.01 918.80 L1068.03 918.83 L1068.18 919.09 L1068.34 919.36 L1068.49 919.63 L1068.64 919.90 L1068.80 920.17 L1068.95 920.45 L1069.11 920.73 L1069.26 921.01 L1069.41 921.29 L1069.57 921.58 L1069.72 921.87 L1069.88 922.16 L1070.03 922.45 L1070.18 922.74 L1070.26 922.88 L1070.34 923.04 L1070.49 923.34 L1070.65 923.65 L1070.80 923.95 L1070.96 924.26 L1071.11 924.57 L1071.26 924.89 L1071.42 925.20 L1071.57 925.53 L1071.73 925.85 L1071.88 926.17 L1072.03 926.50 L1072.19 926.84 L1072.34 927.17 L1072.50 927.51 L1072.50 927.52 L1072.65 927.85 L1072.80 928.19 L1072.96 928.54 L1073.11 928.89 L1073.27 929.25 L1073.42 929.61 L1073.57 929.97 L1073.73 930.33 L1073.88 930.70 L1074.04 931.07 L1074.19 931.45 L1074.35 931.83 L1074.50 932.21 L1074.65 932.60 L1074.75 932.84 L1074.81 932.99 L1074.96 933.39 L1075.12 933.78 L1075.27 934.19 L1075.42 934.59 L1075.58 935.00 L1075.73 935.42 L1075.89 935.84 L1076.04 936.26 L1076.19 936.69 L1076.35 937.12 L1076.50 937.56 L1076.66 938.00 L1076.81 938.45 L1076.96 938.90 L1076.99 938.98 L1077.12 939.36 L1077.27 939.82 L1077.43 940.29 L1077.58 940.76 L1077.73 941.23 L1077.89 941.72 L1078.04 942.20 L1078.20 942.70 L1078.35 943.19 L1078.51 943.70 L1078.66 944.21 L1078.81 944.72 L1078.97 945.24 L1079.12 945.77 L1079.24 946.17 L1079.28 946.30 L1079.43 946.84 L1079.58 947.38 L1079.74 947.94 L1079.89 948.49 L1080.05 949.06 L1080.20 949.63 L1080.35 950.21 L1080.51 950.79 L1080.66 951.38 L1080.82 951.98 L1080.97 952.59 L1081.12 953.20 L1081.28 953.82 L1081.43 954.45 L1081.48 954.65 L1081.59 955.09 L1081.74 955.73 L1081.89 956.38 L1082.05 957.04 L1082.20 957.71 L1082.36 958.39 L1082.51 959.07 L1082.67 959.77 L1082.82 960.47 L1082.97 961.18 L1083.13 961.91 L1083.28 962.64 L1083.44 963.38 L1083.59 964.13 L1083.73 964.80 L1083.74 964.89 L1083.90 965.66 L1084.05 966.44 L1084.21 967.23 L1084.36 968.03 L1084.51 968.84 L1084.67 969.66 L1084.82 970.50 L1084.98 971.34 L1085.13 972.20 L1085.28 973.07 L1085.44 973.95 L1085.59 974.84 L1085.75 975.75 L1085.90 976.67 L1085.97 977.09 L1086.06 977.60 L1086.21 978.54 L1086.36 979.50 L1086.52 980.47 L1086.67 981.46 L1086.83 982.45 L1086.98 983.47 L1087.13 984.50 L1087.29 985.54 L1087.44 986.60 L1087.60 987.67 L1087.75 988.76 L1087.90 989.87 L1088.06 990.99 L1088.21 992.13 L1088.22 992.16 L1088.37 993.28 L1088.52 994.45 L1088.67 995.64 L1088.83 996.85 L1088.98 998.08 L1089.14 999.32 L1089.29 1000.59 L1089.44 1001.87 L1089.60 1003.17 L1089.75 1004.49 L1089.91 1005.83 L1090.06 1007.19 L1090.22 1008.58 L1090.37 1009.98 L1090.46 1010.83 L1090.52 1011.40 L1090.68 1012.85 L1090.83 1014.32 L1090.99 1015.81 L1091.14 1017.33 L1091.29 1018.86 L1091.45 1020.42 L1091.60 1022.01 L1091.76 1023.62 L1091.91 1025.25 L1092.06 1026.91 L1092.22 1028.59 L1092.37 1030.30 L1092.53 1032.04 L1092.68 1033.80 L1092.71 1034.10 L1092.83 1035.59 L1092.99 1037.40 L1093.14 1039.24 L1093.30 1041.11 L1093.45 1043.01 L1093.61 1044.93 L1093.76 1046.88 L1093.91 1048.86 L1094.07 1050.87 L1094.22 1052.91 L1094.38 1054.98 L1094.53 1057.07 L1094.68 1059.20 L1094.84 1061.35 L1094.95 1062.97 L1094.99 1063.54 L1095.15 1065.75 L1095.30 1067.99 L1095.45 1070.27 L1095.61 1072.57 L1095.76 1074.90 L1095.92 1077.26 L1096.07 1079.65 L1096.22 1082.07 L1096.38 1084.51 L1096.53 1086.99 L1096.69 1089.49 L1096.84 1092.02 L1096.99 1094.58 L1097.15 1097.17 L1097.20 1097.97 L1097.30 1099.78 L1097.46 1102.41 L1097.61 1105.08 L1097.77 1107.76 L1097.92 1110.48 L1098.07 1113.21 L1098.23 1115.97 L1098.38 1118.75 L1098.54 1121.54 L1098.69 1124.36 L1098.84 1127.20 L1099.00 1130.06 L1099.15 1132.93 L1099.31 1135.82 L1099.44 1138.37 L1099.46 1138.72 L1099.61 1141.63 L1099.77 1144.56 L1099.92 1147.50 L1100.08 1150.45 L1100.23 1153.40 L1100.38 1156.37 L1100.54 1159.33 L1100.69 1162.31 L1100.85 1165.28 L1101.00 1168.26 L1101.15 1171.23 L1101.31 1174.21 L1101.46 1177.18 L1101.62 1180.15 L1101.69 1181.48 L1101.77 1183.11 L1101.93 1186.07 L1102.08 1189.01 L1102.23 1191.95 L1102.39 1194.88 L1102.54 1197.80 L1102.70 1200.70 L1102.85 1203.59 L1103.00 1206.46 L1103.16 1209.31 L1103.31 1212.15 L1103.47 1214.97 L1103.62 1217.77 L1103.77 1220.55 L1103.93 1223.30 L1103.93 1223.36 L1104.08 1226.04 L1104.24 1228.75 L1104.39 1231.44 L1104.54 1234.10 L1104.70 1236.74 L1104.85 1239.35 L1105.01 1241.93 L1105.16 1244.49 L1105.32 1247.02 L1105.47 1249.53 L1105.62 1252.00 L1105.78 1254.45 L1105.93 1256.87 L1106.09 1259.26 L1106.18 1260.65 L1106.24 1261.62 L1106.39 1263.95 L1106.55 1266.25 L1106.70 1268.52 L1106.86 1270.76 L1107.01 1272.98 L1107.16 1275.16 L1107.32 1277.31 L1107.47 1279.44 L1107.63 1281.54 L1107.78 1283.60 L1107.93 1285.64 L1108.09 1287.65 L1108.24 1289.63 L1108.40 1291.58 L1108.42 1291.89 L1108.55 1293.51 L1108.70 1295.40 L1108.86 1297.27 L1109.01 1299.11 L1109.17 1300.93 L1109.32 1302.72 L1109.48 1304.48 L1109.63 1306.21 L1109.78 1307.92 L1109.94 1309.60 L1110.09 1311.26 L1110.25 1312.90 L1110.40 1314.50 L1110.55 1316.09 L1110.67 1317.23 L1110.71 1317.65 L1110.86 1319.19 L1111.02 1320.70 L1111.17 1322.19 L1111.32 1323.66 L1111.48 1325.11 L1111.63 1326.53 L1111.79 1327.94 L1111.94 1329.32 L1112.09 1330.68 L1112.25 1332.02 L1112.40 1333.34 L1112.56 1334.65 L1112.71 1335.93 L1112.87 1337.19 L1112.91 1337.57 L1113.02 1338.44 L1113.17 1339.66 L1113.33 1340.87 L1113.48 1342.06 L1113.64 1343.23 L1113.79 1344.39 L1113.94 1345.53 L1114.10 1346.65 L1114.25 1347.75 L1114.41 1348.84 L1114.56 1349.92 L1114.71 1350.97 L1114.87 1352.02 L1115.02 1353.05 L1115.16 1353.93 L1115.18 1354.06 L1115.33 1355.06 L1115.48 1356.04 L1115.64 1357.02 L1115.79 1357.97 L1115.95 1358.92 L1116.10 1359.85 L1116.25 1360.77 L1116.41 1361.67 L1116.56 1362.56 L1116.72 1363.45 L1116.87 1364.31 L1117.03 1365.17 L1117.18 1366.02 L1117.33 1366.85 L1117.40 1367.21 L1117.49 1367.67 L1117.64 1368.49 L1117.80 1369.29 L1117.95 1370.08 L1118.10 1370.86 L1118.26 1371.63 L1118.41 1372.39 L1118.57 1373.14 L1118.72 1373.88 L1118.87 1374.61 L1119.03 1375.33 L1119.18 1376.04 L1119.34 1376.74 L1119.49 1377.44 L1119.64 1378.12 L1119.65 1378.13 L1119.80 1378.80 L1119.95 1379.47 L1120.11 1380.13 L1120.26 1380.78 L1120.41 1381.43 L1120.57 1382.06 L1120.72 1382.69 L1120.88 1383.31 L1121.03 1383.93 L1121.19 1384.53 L1121.34 1385.13 L1121.49 1385.72 L1121.65 1386.31 L1121.80 1386.88 L1121.89 1387.22 L1121.96 1387.46 L1122.11 1388.02 L1122.26 1388.58 L1122.42 1389.13 L1122.57 1389.67 L1122.73 1390.21 L1122.88 1390.75 L1123.03 1391.27 L1123.19 1391.79 L1123.34 1392.31 L1123.50 1392.82 L1123.65 1393.32 L1123.80 1393.82 L1123.96 1394.31 L1124.11 1394.80 L1124.14 1394.87 L1124.27 1395.28 L1124.42 1395.76 L1124.58 1396.23 L1124.73 1396.69 L1124.88 1397.15 L1125.04 1397.61 L1125.19 1398.06 L1125.35 1398.51 L1125.50 1398.95 L1125.65 1399.39 L1125.81 1399.82 L1125.96 1400.25 L1126.12 1400.67 L1126.27 1401.09 L1126.38 1401.39 L1126.42 1401.51 L1126.58 1401.92 L1126.73 1402.33 L1126.89 1402.73 L1127.04 1403.13 L1127.19 1403.52 L1127.35 1403.91 L1127.50 1404.30 L1127.66 1404.68 L1127.81 1405.06 L1127.96 1405.44 L1128.12 1405.81 L1128.27 1406.18 L1128.43 1406.55 L1128.58 1406.91 L1128.63 1407.01 L1128.74 1407.27 L1128.89 1407.62 L1129.04 1407.97 L1129.20 1408.32 L1129.35 1408.66 L1129.51 1409.01 L1129.66 1409.34 L1129.81 1409.68 L1129.97 1410.01 L1130.12 1410.34 L1130.28 1410.67 L1130.43 1410.99 L1130.58 1411.31 L1130.74 1411.63 L1130.87 1411.90 L1130.89 1411.94 L1131.05 1412.25 L1131.20 1412.56 L1131.35 1412.87 L1131.51 1413.17 L1131.66 1413.47 L1131.82 1413.77 L1131.97 1414.06 L1132.13 1414.36 L1132.28 1414.65 L1132.43 1414.94 L1132.59 1415.22 L1132.74 1415.50 L1132.90 1415.79 L1133.05 1416.06 L1133.12 1416.18 L1133.20 1416.34 L1133.36 1416.61 L1133.51 1416.88 L1133.67 1417.15 L1133.82 1417.42 L1133.97 1417.69 L1134.13 1417.95 L1134.28 1418.21 L1134.44 1418.47 L1134.59 1418.72 L1134.74 1418.98 L1134.90 1419.23 L1135.05 1419.48 L1135.21 1419.73 L1135.36 1419.97 L1135.36 1419.97 L1135.51 1420.22 L1135.67 1420.46 L1135.82 1420.70 L1135.98 1420.94 L1136.13 1421.17 L1136.29 1421.41 L1136.44 1421.64 L1136.59 1421.87 L1136.75 1422.10 L1136.90 1422.33 L1137.06 1422.55 L1137.21 1422.78 L1137.36 1423.00 L1137.52 1423.22 L1137.61 1423.35 L1137.67 1423.44 L1137.83 1423.66 L1137.98 1423.87 L1138.13 1424.09 L1138.29 1424.30 L1138.44 1424.51 L1138.60 1424.72 L1138.75 1424.93 L1138.90 1425.14 L1139.06 1425.34 L1139.21 1425.54 L1139.37 1425.75 L1139.52 1425.95 L1139.67 1426.15 L1139.83 1426.34 L1139.85 1426.37 L1139.98 1426.54 L1140.14 1426.74 L1140.29 1426.93 L1140.45 1427.12 L1140.60 1427.31 L1140.75 1427.50 L1140.91 1427.69 L1141.06 1427.88 L1141.22 1428.06 L1141.37 1428.25 L1141.52 1428.43 L1141.68 1428.61 L1141.83 1428.79 L1141.99 1428.97 L1142.10 1429.10 L1142.14 1429.15 L1142.29 1429.33 L1142.45 1429.50 L1142.60 1429.68 L1142.76 1429.85 L1142.91 1430.02 L1143.06 1430.20 L1143.22 1430.37 L1143.37 1430.53 L1143.53 1430.70 L1143.68 1430.87 L1143.84 1431.04 L1143.99 1431.20 L1144.14 1431.36 L1144.30 1431.53 L1144.34 1431.57 L1144.45 1431.69 L1144.61 1431.85 L1144.76 1432.01 L1144.91 1432.17 L1145.07 1432.32 L1145.22 1432.48 L1145.38 1432.64 L1145.53 1432.79 L1145.68 1432.94 L1145.84 1433.10 L1145.99 1433.25 L1146.15 1433.40 L1146.30 1433.55 L1146.45 1433.70 L1146.59 1433.82 L1146.61 1433.84 L1146.76 1433.99 L1146.92 1434.14 L1147.07 1434.28 L1147.22 1434.43 L1148.83 1435.88 L1151.08 1437.78 L1153.32 1439.52 L1155.57 1441.13 L1157.81 1442.63 L1160.06 1444.03 L1162.30 1445.33 L1164.55 1446.55 L1166.79 1447.69 L1169.03 1448.76 L1171.28 1449.77 L1173.52 1450.73 L1175.77 1451.63 L1178.01 1452.48 L1180.26 1453.29 L1182.50 1454.05 L1184.75 1454.78 L1186.99 1455.47 L1189.24 1456.13 L1191.48 1456.76 L1193.73 1457.36 L1195.97 1457.94 L1198.22 1458.48 L1200.46 1459.01 L1202.71 1459.51 L1204.95 1459.99 L1207.20 1460.45 L1209.44 1460.89 L1211.69 1461.32 L1213.93 1461.73 L1216.18 1462.12 L1218.42 1462.49 L1220.67 1462.85 L1222.91 1463.20 L1225.16 1463.53 L1227.40 1463.86 L1229.65 1464.17 L1231.89 1464.46 L1234.14 1464.75 L1236.38 1465.03 L1238.63 1465.29 L1240.87 1465.55 L1243.12 1465.80 L1245.36 1466.04 L1247.61 1466.27 L1249.85 1466.49 L1252.10 1466.71 L1254.34 1466.91 L1256.59 1467.11 L1258.83 1467.30 L1261.08 1467.49 L1263.32 1467.67 L1265.57 1467.84 L1267.81 1468.01 L1270.06 1468.17 L1272.30 1468.33 L1274.55 1468.48 L1276.79 1468.63 L1279.04 1468.77 L1281.28 1468.90 L1283.53 1469.03 L1285.77 1469.16 L1288.02 1469.28 L1290.26 1469.40 L1292.51 1469.52 L1294.75 1469.63 L1297.00 1469.74 L1299.24 1469.84 L1301.49 1469.94 L1303.73 1470.04 L1305.98 1470.13 L1308.22 1470.22 L1310.47 1470.31 L1312.71 1470.39 L1314.96 1470.47 L1317.20 1470.55 L1319.45 1470.63 L1321.69 1470.70 L1323.94 1470.77 L1326.18 1470.84 L1328.43 1470.91 L1330.67 1470.97 L1332.92 1471.03 L1335.16 1471.09 L1337.41 1471.15 L1339.65 1471.21 L1341.90 1471.26 L1344.14 1471.32 L1346.39 1471.37 L1348.63 1471.41 L1350.88 1471.46 L1353.12 1471.51 L1355.37 1471.55 L1357.61 1471.60 L1359.86 1471.64 L1362.10 1471.68 L1364.35 1471.72 L1366.59 1471.75 L1368.84 1471.79 L1371.08 1471.83" fill="none" stroke="#5E81B5" stroke-width="11.85" stroke-linejoin="round" stroke-linecap="butt"/>
<path transform="scale(1 1.0900)" d="M248.61 863.66 L250.85 863.66 L253.10 863.66 L255.34 863.66 L257.59 863.66 L259.83 863.66 L262.08 863.66 L264.32 863.66 L266.57 863.66 L268.81 863.66 L271.06 863.66 L273.30 863.66 L275.55 863.66 L277.79 863.66 L280.04 863.66 L282.28 863.66 L284.53 863.66 L286.77 863.66 L289.02 863.66 L291.26 863.66 L293.51 863.66 L295.75 863.66 L298.00 863.66 L300.24 863.66 L302.49 863.66 L304.73 863.66 L306.98 863.66 L309.22 863.66 L311.47 863.66 L313.71 863.66 L315.96 863.66 L318.20 863.66 L320.45 863.66 L322.69 863.66 L324.94 863.66 L327.18 863.66 L329.43 863.66 L331.67 863.66 L333.92 863.66 L336.16 863.66 L338.41 863.66 L340.65 863.66 L342.89 863.66 L345.14 863.66 L347.38 863.66 L349.63 863.66 L351.87 863.66 L354.12 863.66 L356.36 863.66 L358.61 863.66 L360.85 863.66 L363.10 863.66 L365.34 863.66 L367.59 863.66 L369.83 863.66 L372.08 863.66 L374.32 863.66 L376.57 863.66 L378.81 863.66 L381.06 863.66 L383.30 863.66 L385.55 863.66 L387.79 863.67 L390.04 863.67 L392.28 863.67 L394.53 863.67 L396.77 863.67 L399.02 863.67 L401.26 863.67 L403.51 863.67 L405.75 863.67 L408.00 863.67 L410.24 863.67 L412.49 863.67 L414.73 863.67 L416.98 863.67 L419.22 863.67 L421.47 863.67 L423.71 863.67 L425.96 863.67 L428.20 863.67 L430.45 863.67 L432.69 863.67 L434.94 863.67 L437.18 863.67 L439.43 863.67 L441.67 863.67 L443.92 863.67 L446.16 863.67 L448.41 863.67 L450.65 863.67 L452.90 863.67 L455.14 863.67 L457.39 863.67 L459.63 863.67 L461.88 863.67 L464.12 863.67 L466.37 863.68 L468.61 863.68 L470.86 863.68 L473.10 863.68 L475.35 863.68 L477.59 863.68 L479.84 863.68 L482.08 863.68 L484.33 863.68 L486.57 863.68 L488.82 863.68 L491.06 863.68 L493.31 863.68 L495.55 863.68 L497.80 863.68 L500.04 863.68 L502.29 863.69 L504.53 863.69 L506.78 863.69 L509.02 863.69 L511.27 863.69 L513.51 863.69 L515.76 863.69 L518.00 863.69 L520.25 863.69 L522.49 863.69 L524.74 863.70 L526.98 863.70 L529.23 863.70 L531.47 863.70 L533.72 863.70 L535.96 863.70 L538.21 863.70 L540.45 863.71 L542.70 863.71 L544.94 863.71 L547.18 863.71 L549.43 863.71 L551.67 863.71 L553.92 863.72 L556.16 863.72 L558.41 863.72 L560.65 863.72 L562.90 863.72 L565.14 863.73 L567.39 863.73 L569.63 863.73 L571.88 863.73 L574.12 863.73 L576.37 863.74 L578.61 863.74 L580.86 863.74 L583.10 863.74 L585.35 863.75 L587.59 863.75 L589.84 863.75 L592.08 863.76 L594.33 863.76 L596.57 863.76 L598.82 863.77 L601.06 863.77 L603.31 863.77 L605.55 863.78 L607.80 863.78 L610.04 863.79 L612.29 863.79 L614.53 863.80 L616.78 863.80 L619.02 863.80 L621.27 863.81 L623.51 863.81 L625.76 863.82 L628.00 863.83 L630.25 863.83 L632.49 863.84 L634.74 863.84 L636.98 863.85 L639.23 863.86 L641.47 863.86 L643.72 863.87 L645.96 863.88 L648.21 863.88 L650.45 863.89 L652.70 863.90 L654.94 863.91 L657.19 863.92 L659.43 863.92 L661.68 863.93 L663.92 863.94 L666.17 863.95 L668.41 863.96 L670.66 863.97 L672.90 863.98 L675.15 863.99 L677.39 864.01 L679.64 864.02 L681.88 864.03 L684.13 864.04 L686.37 864.06 L688.62 864.07 L690.86 864.08 L693.11 864.10 L695.35 864.11 L697.60 864.13 L699.84 864.14 L702.09 864.16 L704.33 864.18 L706.58 864.19 L708.82 864.21 L711.07 864.23 L713.31 864.25 L715.56 864.27 L717.80 864.29 L720.05 864.31 L722.29 864.34 L724.54 864.36 L726.78 864.38 L729.03 864.41 L731.27 864.43 L733.52 864.46 L735.76 864.49 L738.01 864.52 L740.25 864.54 L742.50 864.57 L744.74 864.61 L746.99 864.64 L749.23 864.67 L751.48 864.71 L753.72 864.74 L755.96 864.78 L758.21 864.82 L760.45 864.86 L762.70 864.90 L764.94 864.94 L767.19 864.98 L769.43 865.03 L771.68 865.07 L773.92 865.12 L776.17 865.17 L778.41 865.22 L780.66 865.28 L782.90 865.33 L785.15 865.39 L787.39 865.45 L789.64 865.51 L791.88 865.57 L794.13 865.64 L796.37 865.70 L798.62 865.77 L800.86 865.85 L803.11 865.92 L805.35 866.00 L807.60 866.08 L809.84 866.16 L812.09 866.25 L814.33 866.33 L816.58 866.43 L818.82 866.52 L821.07 866.62 L823.31 866.72 L825.56 866.82 L827.80 866.93 L830.05 867.04 L832.29 867.16 L834.54 867.28 L836.78 867.40 L839.03 867.53 L841.27 867.66 L843.52 867.80 L845.76 867.94 L848.01 868.08 L850.25 868.24 L852.50 868.39 L854.74 868.55 L856.99 868.72 L859.23 868.89 L861.48 869.07 L863.72 869.26 L865.97 869.45 L868.21 869.65 L870.46 869.85 L872.70 870.06 L874.95 870.28 L877.19 870.51 L879.44 870.74 L881.68 870.98 L883.93 871.23 L886.17 871.49 L888.42 871.76 L890.66 872.04 L892.91 872.32 L895.15 872.62 L897.40 872.93 L899.64 873.24 L901.89 873.57 L904.13 873.91 L906.38 874.26 L908.62 874.62 L910.87 875.00 L913.11 875.39 L915.36 875.79 L917.60 876.21 L919.85 876.64 L922.09 877.08 L924.34 877.54 L926.58 878.02 L928.83 878.51 L931.07 879.03 L933.32 879.55 L935.56 880.10 L937.81 880.67 L940.05 881.25 L942.30 881.86 L944.54 882.49 L946.79 883.14 L949.03 883.82 L951.28 884.51 L953.52 885.24 L955.77 885.98 L958.01 886.76 L960.25 887.56 L962.50 888.40 L964.74 889.26 L966.99 890.15 L969.23 891.08 L971.48 892.04 L973.72 893.04 L975.97 894.07 L978.21 895.14 L980.46 896.26 L982.70 897.41 L984.95 898.61 L987.19 899.85 L989.44 901.15 L991.68 902.49 L993.93 903.88 L996.17 905.33 L998.42 906.84 L1000.66 908.41 L1002.91 910.04 L1005.15 911.74 L1007.40 913.52 L1009.64 915.36 L1011.89 917.29 L1014.13 919.29 L1016.38 921.39 L1018.62 923.57 L1020.87 925.86 L1023.11 928.25 L1025.36 930.75 L1027.60 933.37 L1029.85 936.11 L1032.09 938.99 L1034.34 942.01 L1036.58 945.18 L1038.83 948.52 L1041.07 952.03 L1043.32 955.72 L1045.56 959.62 L1047.81 963.73 L1050.05 968.07 L1052.30 972.66 L1054.54 977.51 L1054.78 978.04 L1054.93 978.38 L1055.09 978.73 L1055.24 979.08 L1055.39 979.43 L1055.55 979.78 L1055.70 980.13 L1055.86 980.48 L1056.01 980.84 L1056.16 981.20 L1056.32 981.55 L1056.47 981.91 L1056.63 982.27 L1056.78 982.64 L1056.79 982.65 L1056.93 983.00 L1057.09 983.37 L1057.24 983.73 L1057.40 984.10 L1057.55 984.47 L1057.70 984.84 L1057.86 985.21 L1058.01 985.59 L1058.17 985.96 L1058.32 986.34 L1058.47 986.72 L1058.63 987.10 L1058.78 987.48 L1058.94 987.86 L1059.03 988.10 L1059.09 988.25 L1059.25 988.64 L1059.40 989.02 L1059.55 989.41 L1059.71 989.80 L1059.86 990.20 L1060.02 990.59 L1060.17 990.99 L1060.32 991.38 L1060.48 991.78 L1060.63 992.18 L1060.79 992.59 L1060.94 992.99 L1061.09 993.40 L1061.25 993.80 L1061.28 993.88 L1061.40 994.21 L1061.56 994.62 L1061.71 995.04 L1061.86 995.45 L1062.02 995.86 L1062.17 996.28 L1062.33 996.70 L1062.48 997.12 L1062.63 997.54 L1062.79 997.97 L1062.94 998.39 L1063.10 998.82 L1063.25 999.25 L1063.41 999.68 L1063.52 1000.01 L1063.56 1000.12 L1063.71 1000.55 L1063.87 1000.99 L1064.02 1001.43 L1064.18 1001.87 L1064.33 1002.31 L1064.48 1002.75 L1064.64 1003.20 L1064.79 1003.65 L1064.95 1004.09 L1065.10 1004.55 L1065.25 1005.00 L1065.41 1005.45 L1065.56 1005.91 L1065.72 1006.37 L1065.77 1006.52 L1065.87 1006.83 L1066.02 1007.29 L1066.18 1007.76 L1066.33 1008.22 L1066.49 1008.69 L1066.64 1009.16 L1066.80 1009.63 L1066.95 1010.11 L1067.10 1010.58 L1067.26 1011.06 L1067.41 1011.54 L1067.57 1012.02 L1067.72 1012.51 L1067.87 1012.99 L1068.01 1013.43 L1068.03 1013.48 L1068.18 1013.97 L1068.34 1014.46 L1068.49 1014.96 L1068.64 1015.45 L1068.80 1015.95 L1068.95 1016.45 L1069.11 1016.96 L1069.26 1017.46 L1069.41 1017.97 L1069.57 1018.47 L1069.72 1018.98 L1069.88 1019.50 L1070.03 1020.01 L1070.18 1020.53 L1070.26 1020.77 L1070.34 1021.05 L1070.49 1021.57 L1070.65 1022.09 L1070.80 1022.62 L1070.96 1023.15 L1071.11 1023.68 L1071.26 1024.21 L1071.42 1024.74 L1071.57 1025.28 L1071.73 1025.82 L1071.88 1026.36 L1072.03 1026.90 L1072.19 1027.45 L1072.34 1027.99 L1072.50 1028.54 L1072.50 1028.56 L1072.65 1029.09 L1072.80 1029.65 L1072.96 1030.21 L1073.11 1030.76 L1073.27 1031.32 L1073.42 1031.89 L1073.57 1032.45 L1073.73 1033.02 L1073.88 1033.59 L1074.04 1034.16 L1074.19 1034.74 L1074.35 1035.31 L1074.50 1035.89 L1074.65 1036.48 L1074.75 1036.83 L1074.81 1037.06 L1074.96 1037.65 L1075.12 1038.23 L1075.27 1038.82 L1075.42 1039.42 L1075.58 1040.01 L1075.73 1040.61 L1075.89 1041.21 L1076.04 1041.81 L1076.19 1042.42 L1076.35 1043.03 L1076.50 1043.64 L1076.66 1044.25 L1076.81 1044.86 L1076.96 1045.48 L1076.99 1045.59 L1077.12 1046.10 L1077.27 1046.72 L1077.43 1047.35 L1077.58 1047.97 L1077.73 1048.60 L1077.89 1049.23 L1078.04 1049.87 L1078.20 1050.50 L1078.35 1051.14 L1078.51 1051.78 L1078.66 1052.43 L1078.81 1053.07 L1078.97 1053.72 L1079.12 1054.37 L1079.24 1054.86 L1079.28 1055.03 L1079.43 1055.68 L1079.58 1056.34 L1079.74 1057.00 L1079.89 1057.66 L1080.05 1058.33 L1080.20 1059.00 L1080.35 1059.67 L1080.51 1060.34 L1080.66 1061.02 L1080.82 1061.70 L1080.97 1062.38 L1081.12 1063.06 L1081.28 1063.74 L1081.43 1064.43 L1081.48 1064.65 L1081.59 1065.12 L1081.74 1065.81 L1081.89 1066.51 L1082.05 1067.21 L1082.20 1067.91 L1082.36 1068.61 L1082.51 1069.31 L1082.67 1070.02 L1082.82 1070.73 L1082.97 1071.44 L1083.13 1072.16 L1083.28 1072.88 L1083.44 1073.59 L1083.59 1074.32 L1083.73 1074.96 L1083.74 1075.04 L1083.90 1075.77 L1084.05 1076.50 L1084.21 1077.23 L1084.36 1077.96 L1084.51 1078.70 L1084.67 1079.44 L1084.82 1080.18 L1084.98 1080.92 L1085.13 1081.67 L1085.28 1082.42 L1085.44 1083.17 L1085.59 1083.92 L1085.75 1084.67 L1085.90 1085.43 L1085.97 1085.78 L1086.06 1086.19 L1086.21 1086.95 L1086.36 1087.72 L1086.52 1088.49 L1086.67 1089.25 L1086.83 1090.03 L1086.98 1090.80 L1087.13 1091.57 L1087.29 1092.35 L1087.44 1093.13 L1087.60 1093.92 L1087.75 1094.70 L1087.90 1095.49 L1088.06 1096.28 L1088.21 1097.07 L1088.22 1097.09 L1088.37 1097.86 L1088.52 1098.66 L1088.67 1099.45 L1088.83 1100.25 L1088.98 1101.05 L1089.14 1101.86 L1089.29 1102.66 L1089.44 1103.47 L1089.60 1104.28 L1089.75 1105.09 L1089.91 1105.91 L1090.06 1106.72 L1090.22 1107.54 L1090.37 1108.36 L1090.46 1108.85 L1090.52 1109.18 L1090.68 1110.01 L1090.83 1110.83 L1090.99 1111.66 L1091.14 1112.49 L1091.29 1113.32 L1091.45 1114.15 L1091.60 1114.99 L1091.76 1115.82 L1091.91 1116.66 L1092.06 1117.50 L1092.22 1118.34 L1092.37 1119.19 L1092.53 1120.03 L1092.68 1120.88 L1092.71 1121.02 L1092.83 1121.72 L1092.99 1122.57 L1093.14 1123.43 L1093.30 1124.28 L1093.45 1125.13 L1093.61 1125.99 L1093.76 1126.85 L1093.91 1127.70 L1094.07 1128.56 L1094.22 1129.43 L1094.38 1130.29 L1094.53 1131.15 L1094.68 1132.02 L1094.84 1132.88 L1094.95 1133.53 L1094.99 1133.75 L1095.15 1134.62 L1095.30 1135.49 L1095.45 1136.36 L1095.61 1137.24 L1095.76 1138.11 L1095.92 1138.98 L1096.07 1139.86 L1096.22 1140.74 L1096.38 1141.61 L1096.53 1142.49 L1096.69 1143.37 L1096.84 1144.25 L1096.99 1145.14 L1097.15 1146.02 L1097.20 1146.29 L1097.30 1146.90 L1097.46 1147.78 L1097.61 1148.67 L1097.77 1149.55 L1097.92 1150.44 L1098.07 1151.33 L1098.23 1152.22 L1098.38 1153.10 L1098.54 1153.99 L1098.69 1154.88 L1098.84 1155.77 L1099.00 1156.66 L1099.15 1157.55 L1099.31 1158.44 L1099.44 1159.23 L1099.46 1159.33 L1099.61 1160.22 L1099.77 1161.12 L1099.92 1162.01 L1100.08 1162.90 L1100.23 1163.79 L1100.38 1164.69 L1100.54 1165.58 L1100.69 1166.47 L1100.85 1167.36 L1101.00 1168.26 L1101.15 1169.15 L1101.31 1170.04 L1101.46 1170.94 L1101.62 1171.83 L1101.69 1172.23 L1101.77 1172.72 L1101.93 1173.61 L1102.08 1174.51 L1102.23 1175.40 L1102.39 1176.29 L1102.54 1177.18 L1102.70 1178.07 L1102.85 1178.96 L1103.00 1179.85 L1103.16 1180.74 L1103.31 1181.63 L1103.47 1182.52 L1103.62 1183.41 L1103.77 1184.30 L1103.93 1185.19 L1103.93 1185.20 L1104.08 1186.07 L1104.24 1186.96 L1104.39 1187.84 L1104.54 1188.73 L1104.70 1189.61 L1104.85 1190.50 L1105.01 1191.38 L1105.16 1192.26 L1105.32 1193.14 L1105.47 1194.02 L1105.62 1194.90 L1105.78 1195.78 L1105.93 1196.65 L1106.09 1197.53 L1106.18 1198.05 L1106.24 1198.40 L1106.39 1199.28 L1106.55 1200.15 L1106.70 1201.02 L1106.86 1201.89 L1107.01 1202.76 L1107.16 1203.63 L1107.32 1204.50 L1107.47 1205.36 L1107.63 1206.23 L1107.78 1207.09 L1107.93 1207.95 L1108.09 1208.81 L1108.24 1209.67 L1108.40 1210.53 L1108.42 1210.66 L1108.55 1211.38 L1108.70 1212.24 L1108.86 1213.09 L1109.01 1213.94 L1109.17 1214.79 L1109.32 1215.64 L1109.48 1216.48 L1109.63 1217.33 L1109.78 1218.17 L1109.94 1219.01 L1110.09 1219.85 L1110.25 1220.69 L1110.40 1221.53 L1110.55 1222.36 L1110.67 1222.97 L1110.71 1223.19 L1110.86 1224.03 L1111.02 1224.85 L1111.17 1225.68 L1111.32 1226.51 L1111.48 1227.33 L1111.63 1228.15 L1111.79 1228.97 L1111.94 1229.79 L1112.09 1230.61 L1112.25 1231.42 L1112.40 1232.23 L1112.56 1233.04 L1112.71 1233.85 L1112.87 1234.66 L1112.91 1234.90 L1113.02 1235.46 L1113.17 1236.26 L1113.33 1237.06 L1113.48 1237.86 L1113.64 1238.65 L1113.79 1239.45 L1113.94 1240.24 L1114.10 1241.03 L1114.25 1241.81 L1114.41 1242.60 L1114.56 1243.38 L1114.71 1244.16 L1114.87 1244.94 L1115.02 1245.71 L1115.16 1246.39 L1115.18 1246.49 L1115.33 1247.26 L1115.48 1248.03 L1115.64 1248.80 L1115.79 1249.56 L1115.95 1250.32 L1116.10 1251.08 L1116.25 1251.84 L1116.41 1252.59 L1116.56 1253.35 L1116.72 1254.10 L1116.87 1254.85 L1117.03 1255.59 L1117.18 1256.34 L1117.33 1257.08 L1117.40 1257.40 L1117.49 1257.81 L1117.64 1258.55 L1117.80 1259.29 L1117.95 1260.02 L1118.10 1260.75 L1118.26 1261.47 L1118.41 1262.20 L1118.57 1262.92 L1118.72 1263.64 L1118.87 1264.36 L1119.03 1265.07 L1119.18 1265.78 L1119.34 1266.49 L1119.49 1267.20 L1119.64 1267.90 L1119.65 1267.91 L1119.80 1268.61 L1119.95 1269.31 L1120.11 1270.00 L1120.26 1270.70 L1120.41 1271.39 L1120.57 1272.08 L1120.72 1272.77 L1120.88 1273.46 L1121.03 1274.14 L1121.19 1274.82 L1121.34 1275.50 L1121.49 1276.17 L1121.65 1276.85 L1121.80 1277.52 L1121.89 1277.90 L1121.96 1278.18 L1122.11 1278.85 L1122.26 1279.51 L1122.42 1280.17 L1122.57 1280.83 L1122.73 1281.49 L1122.88 1282.14 L1123.03 1282.79 L1123.19 1283.44 L1123.34 1284.09 L1123.50 1284.73 L1123.65 1285.37 L1123.80 1286.01 L1123.96 1286.65 L1124.11 1287.28 L1124.14 1287.38 L1124.27 1287.91 L1124.42 1288.54 L1124.58 1289.17 L1124.73 1289.79 L1124.88 1290.41 L1125.04 1291.03 L1125.19 1291.65 L1125.35 1292.26 L1125.50 1292.88 L1125.65 1293.49 L1125.81 1294.09 L1125.96 1294.70 L1126.12 1295.30 L1126.27 1295.90 L1126.38 1296.33 L1126.42 1296.50 L1126.58 1297.10 L1126.73 1297.69 L1126.89 1298.28 L1127.04 1298.87 L1127.19 1299.45 L1127.35 1300.04 L1127.50 1300.62 L1127.66 1301.20 L1127.81 1301.78 L1127.96 1302.35 L1128.12 1302.92 L1128.27 1303.49 L1128.43 1304.06 L1128.58 1304.63 L1128.63 1304.79 L1128.74 1305.19 L1128.89 1305.75 L1129.04 1306.31 L1129.20 1306.86 L1129.35 1307.42 L1129.51 1307.97 L1129.66 1308.52 L1129.81 1309.07 L1129.97 1309.61 L1130.12 1310.16 L1130.28 1310.70 L1130.43 1311.24 L1130.58 1311.77 L1130.74 1312.31 L1130.87 1312.76 L1130.89 1312.84 L1131.05 1313.37 L1131.20 1313.90 L1131.35 1314.42 L1131.51 1314.94 L1131.66 1315.47 L1131.82 1315.98 L1131.97 1316.50 L1132.13 1317.02 L1132.28 1317.53 L1132.43 1318.04 L1132.59 1318.55 L1132.74 1319.05 L1132.90 1319.56 L1133.05 1320.06 L1133.12 1320.28 L1133.20 1320.56 L1133.36 1321.06 L1133.51 1321.56 L1133.67 1322.05 L1133.82 1322.54 L1133.97 1323.03 L1134.13 1323.52 L1134.28 1324.01 L1134.44 1324.49 L1134.59 1324.97 L1134.74 1325.45 L1134.90 1325.93 L1135.05 1326.41 L1135.21 1326.88 L1135.36 1327.35 L1135.36 1327.35 L1135.51 1327.82 L1135.67 1328.29 L1135.82 1328.76 L1135.98 1329.22 L1136.13 1329.68 L1136.29 1330.14 L1136.44 1330.60 L1136.59 1331.06 L1136.75 1331.51 L1136.90 1331.97 L1137.06 1332.42 L1137.21 1332.87 L1137.36 1333.32 L1137.52 1333.76 L1137.61 1334.01 L1137.67 1334.21 L1137.83 1334.65 L1137.98 1335.09 L1138.13 1335.53 L1138.29 1335.96 L1138.44 1336.40 L1138.60 1336.83 L1138.75 1337.26 L1138.90 1337.69 L1139.06 1338.12 L1139.21 1338.55 L1139.37 1338.97 L1139.52 1339.39 L1139.67 1339.81 L1139.83 1340.23 L1139.85 1340.29 L1139.98 1340.65 L1140.14 1341.06 L1140.29 1341.48 L1140.45 1341.89 L1140.60 1342.30 L1140.75 1342.71 L1140.91 1343.12 L1141.06 1343.52 L1141.22 1343.93 L1141.37 1344.33 L1141.52 1344.73 L1141.68 1345.13 L1141.83 1345.53 L1141.99 1345.92 L1142.10 1346.20 L1142.14 1346.32 L1142.29 1346.71 L1142.45 1347.10 L1142.60 1347.49 L1142.76 1347.88 L1142.91 1348.26 L1143.06 1348.65 L1143.22 1349.03 L1143.37 1349.41 L1143.53 1349.79 L1143.68 1350.17 L1143.84 1350.55 L1143.99 1350.93 L1144.14 1351.30 L1144.30 1351.67 L1144.34 1351.78 L1144.45 1352.04 L1144.61 1352.41 L1144.76 1352.78 L1144.91 1353.15 L1145.07 1353.51 L1145.22 1353.88 L1145.38 1354.24 L1145.53 1354.60 L1145.68 1354.96 L1145.84 1355.32 L1145.99 1355.68 L1146.15 1356.03 L1146.30 1356.38 L1146.45 1356.74 L1146.59 1357.04 L1146.61 1357.09 L1146.76 1357.44 L1146.92 1357.79 L1147.07 1358.13 L1147.22 1358.48 L1148.83 1362.00 L1151.08 1366.69 L1153.32 1371.12 L1155.57 1375.32 L1157.81 1379.30 L1160.06 1383.07 L1162.30 1386.65 L1164.55 1390.05 L1166.79 1393.29 L1169.03 1396.36 L1171.28 1399.30 L1173.52 1402.09 L1175.77 1404.76 L1178.01 1407.30 L1180.26 1409.74 L1182.50 1412.06 L1184.75 1414.29 L1186.99 1416.42 L1189.24 1418.46 L1191.48 1420.41 L1193.73 1422.29 L1195.97 1424.09 L1198.22 1425.82 L1200.46 1427.47 L1202.71 1429.07 L1204.95 1430.60 L1207.20 1432.07 L1209.44 1433.49 L1211.69 1434.85 L1213.93 1436.16 L1216.18 1437.43 L1218.42 1438.64 L1220.67 1439.81 L1222.91 1440.94 L1225.16 1442.03 L1227.40 1443.08 L1229.65 1444.09 L1231.89 1445.06 L1234.14 1446.00 L1236.38 1446.91 L1238.63 1447.79 L1240.87 1448.63 L1243.12 1449.44 L1245.36 1450.23 L1247.61 1450.99 L1249.85 1451.72 L1252.10 1452.43 L1254.34 1453.11 L1256.59 1453.77 L1258.83 1454.41 L1261.08 1455.03 L1263.32 1455.62 L1265.57 1456.19 L1267.81 1456.75 L1270.06 1457.28 L1272.30 1457.80 L1274.55 1458.30 L1276.79 1458.79 L1279.04 1459.25 L1281.28 1459.70 L1283.53 1460.14 L1285.77 1460.56 L1288.02 1460.97 L1290.26 1461.36 L1292.51 1461.74 L1294.75 1462.11 L1297.00 1462.47 L1299.24 1462.81 L1301.49 1463.14 L1303.73 1463.47 L1305.98 1463.78 L1308.22 1464.08 L1310.47 1464.37 L1312.71 1464.65 L1314.96 1464.92 L1317.20 1465.18 L1319.45 1465.44 L1321.69 1465.68 L1323.94 1465.92 L1326.18 1466.15 L1328.43 1466.37 L1330.67 1466.58 L1332.92 1466.79 L1335.16 1466.99 L1337.41 1467.18 L1339.65 1467.37 L1341.90 1467.55 L1344.14 1467.73 L1346.39 1467.90 L1348.63 1468.06 L1350.88 1468.22 L1353.12 1468.37 L1355.37 1468.52 L1357.61 1468.66 L1359.86 1468.80 L1362.10 1468.93 L1364.35 1469.06 L1366.59 1469.19 L1368.84 1469.31 L1371.08 1469.43" fill="none" stroke="#E19C24" stroke-width="11.85" stroke-linejoin="round" stroke-linecap="butt"/>
<path transform="scale(1 1.0900)" d="M248.61 863.66 L250.85 863.66 L253.10 863.66 L255.34 863.66 L257.59 863.66 L259.83 863.66 L262.08 863.66 L264.32 863.66 L266.57 863.66 L268.81 863.66 L271.06 863.66 L273.30 863.66 L275.55 863.66 L277.79 863.66 L280.04 863.66 L282.28 863.66 L284.53 863.66 L286.77 863.66 L289.02 863.66 L291.26 863.66 L293.51 863.66 L295.75 863.66 L298.00 863.66 L300.24 863.66 L302.49 863.66 L304.73 863.66 L306.98 863.66 L309.22 863.66 L311.47 863.66 L313.71 863.67 L315.96 863.67 L318.20 863.67 L320.45 863.67 L322.69 863.67 L324.94 863.67 L327.18 863.67 L329.43 863.67 L331.67 863.67 L333.92 863.67 L336.16 863.67 L338.41 863.67 L340.65 863.67 L342.89 863.67 L345.14 863.67 L347.38 863.67 L349.63 863.67 L351.87 863.67 L354.12 863.67 L356.36 863.67 L358.61 863.67 L360.85 863.67 L363.10 863.67 L365.34 863.67 L367.59 863.67 L369.83 863.67 L372.08 863.67 L374.32 863.67 L376.57 863.67 L378.81 863.67 L381.06 863.67 L383.30 863.67 L385.55 863.67 L387.79 863.67 L390.04 863.67 L392.28 863.68 L394.53 863.68 L396.77 863.68 L399.02 863.68 L401.26 863.68 L403.51 863.68 L405.75 863.68 L408.00 863.68 L410.24 863.68 L412.49 863.68 L414.73 863.68 L416.98 863.68 L419.22 863.68 L421.47 863.68 L423.71 863.68 L425.96 863.68 L428.20 863.69 L430.45 863.69 L432.69 863.69 L434.94 863.69 L437.18 863.69 L439.43 863.69 L441.67 863.69 L443.92 863.69 L446.16 863.69 L448.41 863.69 L450.65 863.70 L452.90 863.70 L455.14 863.70 L457.39 863.70 L459.63 863.70 L461.88 863.70 L464.12 863.70 L466.37 863.70 L468.61 863.71 L470.86 863.71 L473.10 863.71 L475.35 863.71 L477.59 863.71 L479.84 863.71 L482.08 863.72 L484.33 863.72 L486.57 863.72 L488.82 863.72 L491.06 863.72 L493.31 863.73 L495.55 863.73 L497.80 863.73 L500.04 863.73 L502.29 863.74 L504.53 863.74 L506.78 863.74 L509.02 863.74 L511.27 863.75 L513.51 863.75 L515.76 863.75 L518.00 863.76 L520.25 863.76 L522.49 863.76 L524.74 863.77 L526.98 863.77 L529.23 863.77 L531.47 863.78 L533.72 863.78 L535.96 863.79 L538.21 863.79 L540.45 863.79 L542.70 863.80 L544.94 863.80 L547.18 863.81 L549.43 863.81 L551.67 863.82 L553.92 863.82 L556.16 863.83 L558.41 863.84 L560.65 863.84 L562.90 863.85 L565.14 863.85 L567.39 863.86 L569.63 863.87 L571.88 863.87 L574.12 863.88 L576.37 863.89 L578.61 863.90 L580.86 863.91 L583.10 863.91 L585.35 863.92 L587.59 863.93 L589.84 863.94 L592.08 863.95 L594.33 863.96 L596.57 863.97 L598.82 863.98 L601.06 863.99 L603.31 864.00 L605.55 864.01 L607.80 864.03 L610.04 864.04 L612.29 864.05 L614.53 864.07 L616.78 864.08 L619.02 864.09 L621.27 864.11 L623.51 864.12 L625.76 864.14 L628.00 864.16 L630.25 864.17 L632.49 864.19 L634.74 864.21 L636.98 864.23 L639.23 864.25 L641.47 864.27 L643.72 864.29 L645.96 864.31 L648.21 864.33 L650.45 864.35 L652.70 864.38 L654.94 864.40 L657.19 864.43 L659.43 864.45 L661.68 864.48 L663.92 864.51 L666.17 864.54 L668.41 864.57 L670.66 864.60 L672.90 864.63 L675.15 864.66 L677.39 864.70 L679.64 864.73 L681.88 864.77 L684.13 864.81 L686.37 864.85 L688.62 864.89 L690.86 864.93 L693.11 864.97 L695.35 865.02 L697.60 865.06 L699.84 865.11 L702.09 865.16 L704.33 865.21 L706.58 865.26 L708.82 865.32 L711.07 865.37 L713.31 865.43 L715.56 865.49 L717.80 865.56 L720.05 865.62 L722.29 865.69 L724.54 865.76 L726.78 865.83 L729.03 865.90 L731.27 865.98 L733.52 866.06 L735.76 866.14 L738.01 866.22 L740.25 866.31 L742.50 866.40 L744.74 866.50 L746.99 866.59 L749.23 866.69 L751.48 866.80 L753.72 866.90 L755.96 867.01 L758.21 867.13 L760.45 867.25 L762.70 867.37 L764.94 867.49 L767.19 867.63 L769.43 867.76 L771.68 867.90 L773.92 868.04 L776.17 868.19 L778.41 868.35 L780.66 868.51 L782.90 868.67 L785.15 868.85 L787.39 869.02 L789.64 869.21 L791.88 869.39 L794.13 869.59 L796.37 869.79 L798.62 870.00 L800.86 870.22 L803.11 870.44 L805.35 870.67 L807.60 870.91 L809.84 871.16 L812.09 871.41 L814.33 871.68 L816.58 871.95 L818.82 872.23 L821.07 872.53 L823.31 872.83 L825.56 873.14 L827.80 873.46 L830.05 873.80 L832.29 874.14 L834.54 874.50 L836.78 874.87 L839.03 875.25 L841.27 875.65 L843.52 876.06 L845.76 876.48 L848.01 876.91 L850.25 877.36 L852.50 877.83 L854.74 878.31 L856.99 878.81 L859.23 879.33 L861.48 879.86 L863.72 880.41 L865.97 880.98 L868.21 881.57 L870.46 882.18 L872.70 882.81 L874.95 883.46 L877.19 884.13 L879.44 884.82 L881.68 885.54 L883.93 886.28 L886.17 887.05 L888.42 887.84 L890.66 888.66 L892.91 889.51 L895.15 890.38 L897.40 891.29 L899.64 892.22 L901.89 893.19 L904.13 894.18 L906.38 895.21 L908.62 896.28 L910.87 897.37 L913.11 898.51 L915.36 899.68 L917.60 900.89 L919.85 902.14 L922.09 903.43 L924.34 904.76 L926.58 906.13 L928.83 907.55 L931.07 909.01 L933.32 910.52 L935.56 912.07 L937.81 913.68 L940.05 915.33 L942.30 917.04 L944.54 918.79 L946.79 920.61 L949.03 922.47 L951.28 924.39 L953.52 926.37 L955.77 928.41 L958.01 930.51 L960.25 932.67 L962.50 934.89 L964.74 937.17 L966.99 939.52 L969.23 941.93 L971.48 944.40 L973.72 946.94 L975.97 949.55 L978.21 952.23 L980.46 954.97 L982.70 957.78 L984.95 960.66 L987.19 963.61 L989.44 966.63 L991.68 969.71 L993.93 972.86 L996.17 976.08 L998.42 979.37 L1000.66 982.72 L1002.91 986.14 L1005.15 989.62 L1007.40 993.16 L1009.64 996.77 L1011.89 1000.43 L1014.13 1004.15 L1016.38 1007.93 L1018.62 1011.76 L1020.87 1015.64 L1023.11 1019.57 L1025.36 1023.54 L1027.60 1027.56 L1029.85 1031.62 L1032.09 1035.72 L1034.34 1039.86 L1036.58 1044.02 L1038.83 1048.22 L1041.07 1052.44 L1043.32 1056.69 L1045.56 1060.96 L1047.81 1065.25 L1050.05 1069.55 L1052.30 1073.87 L1054.54 1078.20 L1054.78 1078.66 L1054.93 1078.95 L1055.09 1079.25 L1055.24 1079.55 L1055.39 1079.85 L1055.55 1080.15 L1055.70 1080.44 L1055.86 1080.74 L1056.01 1081.04 L1056.16 1081.34 L1056.32 1081.64 L1056.47 1081.93 L1056.63 1082.23 L1056.78 1082.53 L1056.79 1082.55 L1056.93 1082.83 L1057.09 1083.13 L1057.24 1083.43 L1057.40 1083.72 L1057.55 1084.02 L1057.70 1084.32 L1057.86 1084.62 L1058.01 1084.92 L1058.17 1085.22 L1058.32 1085.51 L1058.47 1085.81 L1058.63 1086.11 L1058.78 1086.41 L1058.94 1086.71 L1059.03 1086.89 L1059.09 1087.01 L1059.25 1087.31 L1059.40 1087.61 L1059.55 1087.90 L1059.71 1088.20 L1059.86 1088.50 L1060.02 1088.80 L1060.17 1089.10 L1060.32 1089.40 L1060.48 1089.70 L1060.63 1090.00 L1060.79 1090.30 L1060.94 1090.59 L1061.09 1090.89 L1061.25 1091.19 L1061.28 1091.25 L1061.40 1091.49 L1061.56 1091.79 L1061.71 1092.09 L1061.86 1092.39 L1062.02 1092.69 L1062.17 1092.99 L1062.33 1093.29 L1062.48 1093.59 L1062.63 1093.88 L1062.79 1094.18 L1062.94 1094.48 L1063.10 1094.78 L1063.25 1095.08 L1063.41 1095.38 L1063.52 1095.61 L1063.56 1095.68 L1063.71 1095.98 L1063.87 1096.28 L1064.02 1096.58 L1064.18 1096.88 L1064.33 1097.18 L1064.48 1097.48 L1064.64 1097.78 L1064.79 1098.08 L1064.95 1098.37 L1065.10 1098.67 L1065.25 1098.97 L1065.41 1099.27 L1065.56 1099.57 L1065.72 1099.87 L1065.77 1099.97 L1065.87 1100.17 L1066.02 1100.47 L1066.18 1100.77 L1066.33 1101.07 L1066.49 1101.37 L1066.64 1101.67 L1066.80 1101.97 L1066.95 1102.27 L1067.10 1102.57 L1067.26 1102.87 L1067.41 1103.17 L1067.57 1103.47 L1067.72 1103.77 L1067.87 1104.06 L1068.01 1104.33 L1068.03 1104.36 L1068.18 1104.66 L1068.34 1104.96 L1068.49 1105.26 L1068.64 1105.56 L1068.80 1105.86 L1068.95 1106.16 L1069.11 1106.46 L1069.26 1106.76 L1069.41 1107.06 L1069.57 1107.36 L1069.72 1107.66 L1069.88 1107.96 L1070.03 1108.26 L1070.18 1108.56 L1070.26 1108.70 L1070.34 1108.86 L1070.49 1109.16 L1070.65 1109.46 L1070.80 1109.76 L1070.96 1110.06 L1071.11 1110.35 L1071.26 1110.65 L1071.42 1110.95 L1071.57 1111.25 L1071.73 1111.55 L1071.88 1111.85 L1072.03 1112.15 L1072.19 1112.45 L1072.34 1112.75 L1072.50 1113.05 L1072.50 1113.06 L1072.65 1113.35 L1072.80 1113.65 L1072.96 1113.95 L1073.11 1114.25 L1073.27 1114.55 L1073.42 1114.85 L1073.57 1115.15 L1073.73 1115.44 L1073.88 1115.74 L1074.04 1116.04 L1074.19 1116.34 L1074.35 1116.64 L1074.50 1116.94 L1074.65 1117.24 L1074.75 1117.42 L1074.81 1117.54 L1074.96 1117.84 L1075.12 1118.14 L1075.27 1118.44 L1075.42 1118.74 L1075.58 1119.04 L1075.73 1119.34 L1075.89 1119.64 L1076.04 1119.93 L1076.19 1120.23 L1076.35 1120.53 L1076.50 1120.83 L1076.66 1121.13 L1076.81 1121.43 L1076.96 1121.73 L1076.99 1121.78 L1077.12 1122.03 L1077.27 1122.33 L1077.43 1122.63 L1077.58 1122.93 L1077.73 1123.23 L1077.89 1123.52 L1078.04 1123.82 L1078.20 1124.12 L1078.35 1124.42 L1078.51 1124.72 L1078.66 1125.02 L1078.81 1125.32 L1078.97 1125.62 L1079.12 1125.92 L1079.24 1126.14 L1079.28 1126.22 L1079.43 1126.52 L1079.58 1126.81 L1079.74 1127.11 L1079.89 1127.41 L1080.05 1127.71 L1080.20 1128.01 L1080.35 1128.31 L1080.51 1128.61 L1080.66 1128.91 L1080.82 1129.21 L1080.97 1129.50 L1081.12 1129.80 L1081.28 1130.10 L1081.43 1130.40 L1081.48 1130.50 L1081.59 1130.70 L1081.74 1131.00 L1081.89 1131.30 L1082.05 1131.60 L1082.20 1131.89 L1082.36 1132.19 L1082.51 1132.49 L1082.67 1132.79 L1082.82 1133.09 L1082.97 1133.39 L1083.13 1133.69 L1083.28 1133.99 L1083.44 1134.28 L1083.59 1134.58 L1083.73 1134.85 L1083.74 1134.88 L1083.90 1135.18 L1084.05 1135.48 L1084.21 1135.78 L1084.36 1136.08 L1084.51 1136.37 L1084.67 1136.67 L1084.82 1136.97 L1084.98 1137.27 L1085.13 1137.57 L1085.28 1137.87 L1085.44 1138.16 L1085.59 1138.46 L1085.75 1138.76 L1085.90 1139.06 L1085.97 1139.20 L1086.06 1139.36 L1086.21 1139.66 L1086.36 1139.96 L1086.52 1140.25 L1086.67 1140.55 L1086.83 1140.85 L1086.98 1141.15 L1087.13 1141.45 L1087.29 1141.75 L1087.44 1142.04 L1087.60 1142.34 L1087.75 1142.64 L1087.90 1142.94 L1088.06 1143.24 L1088.21 1143.53 L1088.22 1143.54 L1088.37 1143.83 L1088.52 1144.13 L1088.67 1144.43 L1088.83 1144.73 L1088.98 1145.03 L1089.14 1145.32 L1089.29 1145.62 L1089.44 1145.92 L1089.60 1146.22 L1089.75 1146.52 L1089.91 1146.81 L1090.06 1147.11 L1090.22 1147.41 L1090.37 1147.71 L1090.46 1147.89 L1090.52 1148.01 L1090.68 1148.30 L1090.83 1148.60 L1090.99 1148.90 L1091.14 1149.20 L1091.29 1149.50 L1091.45 1149.79 L1091.60 1150.09 L1091.76 1150.39 L1091.91 1150.69 L1092.06 1150.99 L1092.22 1151.28 L1092.37 1151.58 L1092.53 1151.88 L1092.68 1152.18 L1092.71 1152.23 L1092.83 1152.48 L1092.99 1152.77 L1093.14 1153.07 L1093.30 1153.37 L1093.45 1153.67 L1093.61 1153.97 L1093.76 1154.26 L1093.91 1154.56 L1094.07 1154.86 L1094.22 1155.16 L1094.38 1155.45 L1094.53 1155.75 L1094.68 1156.05 L1094.84 1156.35 L1094.95 1156.57 L1094.99 1156.65 L1095.15 1156.94 L1095.30 1157.24 L1095.45 1157.54 L1095.61 1157.84 L1095.76 1158.14 L1095.92 1158.43 L1096.07 1158.73 L1096.22 1159.03 L1096.38 1159.33 L1096.53 1159.62 L1096.69 1159.92 L1096.84 1160.22 L1096.99 1160.52 L1097.15 1160.81 L1097.20 1160.91 L1097.30 1161.11 L1097.46 1161.41 L1097.61 1161.71 L1097.77 1162.01 L1097.92 1162.30 L1098.07 1162.60 L1098.23 1162.90 L1098.38 1163.20 L1098.54 1163.49 L1098.69 1163.79 L1098.84 1164.09 L1099.00 1164.39 L1099.15 1164.68 L1099.31 1164.98 L1099.44 1165.24 L1099.46 1165.28 L1099.61 1165.58 L1099.77 1165.88 L1099.92 1166.17 L1100.08 1166.47 L1100.23 1166.77 L1100.38 1167.07 L1100.54 1167.36 L1100.69 1167.66 L1100.85 1167.96 L1101.00 1168.26 L1101.15 1168.55 L1101.31 1168.85 L1101.46 1169.15 L1101.62 1169.45 L1101.69 1169.58 L1101.77 1169.75 L1101.93 1170.04 L1102.08 1170.34 L1102.23 1170.64 L1102.39 1170.94 L1102.54 1171.23 L1102.70 1171.53 L1102.85 1171.83 L1103.00 1172.13 L1103.16 1172.42 L1103.31 1172.72 L1103.47 1173.02 L1103.62 1173.32 L1103.77 1173.62 L1103.93 1173.91 L1103.93 1173.92 L1104.08 1174.21 L1104.24 1174.51 L1104.39 1174.81 L1104.54 1175.10 L1104.70 1175.40 L1104.85 1175.70 L1105.01 1176.00 L1105.16 1176.29 L1105.32 1176.59 L1105.47 1176.89 L1105.62 1177.19 L1105.78 1177.49 L1105.93 1177.78 L1106.09 1178.08 L1106.18 1178.26 L1106.24 1178.38 L1106.39 1178.68 L1106.55 1178.97 L1106.70 1179.27 L1106.86 1179.57 L1107.01 1179.87 L1107.16 1180.17 L1107.32 1180.46 L1107.47 1180.76 L1107.63 1181.06 L1107.78 1181.36 L1107.93 1181.65 L1108.09 1181.95 L1108.24 1182.25 L1108.40 1182.55 L1108.42 1182.60 L1108.55 1182.85 L1108.70 1183.14 L1108.86 1183.44 L1109.01 1183.74 L1109.17 1184.04 L1109.32 1184.34 L1109.48 1184.63 L1109.63 1184.93 L1109.78 1185.23 L1109.94 1185.53 L1110.09 1185.83 L1110.25 1186.12 L1110.40 1186.42 L1110.55 1186.72 L1110.67 1186.94 L1110.71 1187.02 L1110.86 1187.31 L1111.02 1187.61 L1111.17 1187.91 L1111.32 1188.21 L1111.48 1188.51 L1111.63 1188.81 L1111.79 1189.10 L1111.94 1189.40 L1112.09 1189.70 L1112.25 1190.00 L1112.40 1190.30 L1112.56 1190.59 L1112.71 1190.89 L1112.87 1191.19 L1112.91 1191.28 L1113.02 1191.49 L1113.17 1191.79 L1113.33 1192.08 L1113.48 1192.38 L1113.64 1192.68 L1113.79 1192.98 L1113.94 1193.28 L1114.10 1193.58 L1114.25 1193.87 L1114.41 1194.17 L1114.56 1194.47 L1114.71 1194.77 L1114.87 1195.07 L1115.02 1195.37 L1115.16 1195.62 L1115.18 1195.66 L1115.33 1195.96 L1115.48 1196.26 L1115.64 1196.56 L1115.79 1196.86 L1115.95 1197.16 L1116.10 1197.45 L1116.25 1197.75 L1116.41 1198.05 L1116.56 1198.35 L1116.72 1198.65 L1116.87 1198.95 L1117.03 1199.24 L1117.18 1199.54 L1117.33 1199.84 L1117.40 1199.97 L1117.49 1200.14 L1117.64 1200.44 L1117.80 1200.74 L1117.95 1201.04 L1118.10 1201.33 L1118.26 1201.63 L1118.41 1201.93 L1118.57 1202.23 L1118.72 1202.53 L1118.87 1202.83 L1119.03 1203.13 L1119.18 1203.42 L1119.34 1203.72 L1119.49 1204.02 L1119.64 1204.32 L1119.65 1204.32 L1119.80 1204.62 L1119.95 1204.92 L1120.11 1205.22 L1120.26 1205.52 L1120.41 1205.81 L1120.57 1206.11 L1120.72 1206.41 L1120.88 1206.71 L1121.03 1207.01 L1121.19 1207.31 L1121.34 1207.61 L1121.49 1207.91 L1121.65 1208.21 L1121.80 1208.50 L1121.89 1208.68 L1121.96 1208.80 L1122.11 1209.10 L1122.26 1209.40 L1122.42 1209.70 L1122.57 1210.00 L1122.73 1210.30 L1122.88 1210.60 L1123.03 1210.90 L1123.19 1211.19 L1123.34 1211.49 L1123.50 1211.79 L1123.65 1212.09 L1123.80 1212.39 L1123.96 1212.69 L1124.11 1212.99 L1124.14 1213.03 L1124.27 1213.29 L1124.42 1213.59 L1124.58 1213.89 L1124.73 1214.19 L1124.88 1214.48 L1125.04 1214.78 L1125.19 1215.08 L1125.35 1215.38 L1125.50 1215.68 L1125.65 1215.98 L1125.81 1216.28 L1125.96 1216.58 L1126.12 1216.88 L1126.27 1217.18 L1126.38 1217.39 L1126.42 1217.48 L1126.58 1217.78 L1126.73 1218.08 L1126.89 1218.37 L1127.04 1218.67 L1127.19 1218.97 L1127.35 1219.27 L1127.50 1219.57 L1127.66 1219.87 L1127.81 1220.17 L1127.96 1220.47 L1128.12 1220.77 L1128.27 1221.07 L1128.43 1221.37 L1128.58 1221.67 L1128.63 1221.75 L1128.74 1221.97 L1128.89 1222.27 L1129.04 1222.57 L1129.20 1222.87 L1129.35 1223.16 L1129.51 1223.46 L1129.66 1223.76 L1129.81 1224.06 L1129.97 1224.36 L1130.12 1224.66 L1130.28 1224.96 L1130.43 1225.26 L1130.58 1225.56 L1130.74 1225.86 L1130.87 1226.12 L1130.89 1226.16 L1131.05 1226.46 L1131.20 1226.76 L1131.35 1227.06 L1131.51 1227.36 L1131.66 1227.66 L1131.82 1227.96 L1131.97 1228.26 L1132.13 1228.56 L1132.28 1228.85 L1132.43 1229.15 L1132.59 1229.45 L1132.74 1229.75 L1132.90 1230.05 L1133.05 1230.35 L1133.12 1230.48 L1133.20 1230.65 L1133.36 1230.95 L1133.51 1231.25 L1133.67 1231.55 L1133.82 1231.85 L1133.97 1232.15 L1134.13 1232.45 L1134.28 1232.75 L1134.44 1233.05 L1134.59 1233.35 L1134.74 1233.65 L1134.90 1233.95 L1135.05 1234.25 L1135.21 1234.55 L1135.36 1234.85 L1135.36 1234.85 L1135.51 1235.14 L1135.67 1235.44 L1135.82 1235.74 L1135.98 1236.04 L1136.13 1236.34 L1136.29 1236.64 L1136.44 1236.94 L1136.59 1237.24 L1136.75 1237.54 L1136.90 1237.84 L1137.06 1238.14 L1137.21 1238.44 L1137.36 1238.74 L1137.52 1239.04 L1137.61 1239.21 L1137.67 1239.34 L1137.83 1239.64 L1137.98 1239.94 L1138.13 1240.23 L1138.29 1240.53 L1138.44 1240.83 L1138.60 1241.13 L1138.75 1241.43 L1138.90 1241.73 L1139.06 1242.03 L1139.21 1242.33 L1139.37 1242.63 L1139.52 1242.93 L1139.67 1243.23 L1139.83 1243.53 L1139.85 1243.57 L1139.98 1243.83 L1140.14 1244.12 L1140.29 1244.42 L1140.45 1244.72 L1140.60 1245.02 L1140.75 1245.32 L1140.91 1245.62 L1141.06 1245.92 L1141.22 1246.22 L1141.37 1246.52 L1141.52 1246.82 L1141.68 1247.12 L1141.83 1247.41 L1141.99 1247.71 L1142.10 1247.93 L1142.14 1248.01 L1142.29 1248.31 L1142.45 1248.61 L1142.60 1248.91 L1142.76 1249.21 L1142.91 1249.51 L1143.06 1249.80 L1143.22 1250.10 L1143.37 1250.40 L1143.53 1250.70 L1143.68 1251.00 L1143.84 1251.30 L1143.99 1251.60 L1144.14 1251.89 L1144.30 1252.19 L1144.34 1252.28 L1144.45 1252.49 L1144.61 1252.79 L1144.76 1253.09 L1144.91 1253.39 L1145.07 1253.69 L1145.22 1253.98 L1145.38 1254.28 L1145.53 1254.58 L1145.68 1254.88 L1145.84 1255.18 L1145.99 1255.47 L1146.15 1255.77 L1146.30 1256.07 L1146.45 1256.37 L1146.59 1256.62 L1146.61 1256.67 L1146.76 1256.96 L1146.92 1257.26 L1147.07 1257.56 L1147.22 1257.86 L1148.83 1260.96 L1151.08 1265.28 L1153.32 1269.59 L1155.57 1273.89 L1157.81 1278.17 L1160.06 1282.42 L1162.30 1286.66 L1164.55 1290.86 L1166.79 1295.04 L1169.03 1299.19 L1171.28 1303.30 L1173.52 1307.38 L1175.77 1311.41 L1178.01 1315.40 L1180.26 1319.35 L1182.50 1323.25 L1184.75 1327.10 L1186.99 1330.90 L1189.24 1334.64 L1191.48 1338.33 L1193.73 1341.95 L1195.97 1345.52 L1198.22 1349.03 L1200.46 1352.47 L1202.71 1355.85 L1204.95 1359.16 L1207.20 1362.40 L1209.44 1365.58 L1211.69 1368.69 L1213.93 1371.74 L1216.18 1374.71 L1218.42 1377.62 L1220.67 1380.46 L1222.91 1383.23 L1225.16 1385.93 L1227.40 1388.56 L1229.65 1391.13 L1231.89 1393.63 L1234.14 1396.07 L1236.38 1398.44 L1238.63 1400.75 L1240.87 1402.99 L1243.12 1405.17 L1245.36 1407.29 L1247.61 1409.35 L1249.85 1411.36 L1252.10 1413.30 L1254.34 1415.19 L1256.59 1417.02 L1258.83 1418.80 L1261.08 1420.53 L1263.32 1422.20 L1265.57 1423.82 L1267.81 1425.40 L1270.06 1426.92 L1272.30 1428.40 L1274.55 1429.84 L1276.79 1431.23 L1279.04 1432.58 L1281.28 1433.88 L1283.53 1435.14 L1285.77 1436.37 L1288.02 1437.55 L1290.26 1438.70 L1292.51 1439.82 L1294.75 1440.89 L1297.00 1441.93 L1299.24 1442.94 L1301.49 1443.92 L1303.73 1444.87 L1305.98 1445.78 L1308.22 1446.67 L1310.47 1447.52 L1312.71 1448.35 L1314.96 1449.16 L1317.20 1449.93 L1319.45 1450.69 L1321.69 1451.41 L1323.94 1452.12 L1326.18 1452.80 L1328.43 1453.46 L1330.67 1454.09 L1332.92 1454.71 L1335.16 1455.31 L1337.41 1455.88 L1339.65 1456.44 L1341.90 1456.98 L1344.14 1457.50 L1346.39 1458.01 L1348.63 1458.50 L1350.88 1458.97 L1353.12 1459.43 L1355.37 1459.87 L1357.61 1460.30 L1359.86 1460.71 L1362.10 1461.11 L1364.35 1461.50 L1366.59 1461.87 L1368.84 1462.23 L1371.08 1462.58" fill="none" stroke="#8FB032" stroke-width="11.85" stroke-linejoin="round" stroke-linecap="butt"/>
<path d="M252 926H256V941H252Z M252 1604H256V1620H252Z M419 926H422V932H419Z M419 1613H422V1620H419Z M462 926H465V932H462Z M462 1613H465V1620H462Z M488 926H491V932H488Z M488 1613H491V1620H488Z M507 926H510V932H507Z M507 1613H510V1620H507Z M522 926H525V932H522Z M522 1613H525V1620H522Z M534 926H537V932H534Z M534 1613H537V1620H534Z M544 926H547V932H544Z M544 1613H547V1620H544Z M553 926H556V932H553Z M553 1613H556V1620H553Z M560 926H564V941H560Z M560 1604H564V1620H560Z M727 926H730V932H727Z M727 1613H730V1620H727Z M770 926H773V932H770Z M770 1613H773V1620H770Z M797 926H800V932H797Z M797 1613H800V1620H797Z M815 926H818V932H815Z M815 1613H818V1620H815Z M830 926H833V932H830Z M830 1613H833V1620H830Z M842 926H845V932H842Z M842 1613H845V1620H842Z M852 926H855V932H852Z M852 1613H855V1620H852Z M861 926H864V932H861Z M861 1613H864V1620H861Z M869 926H872V941H869Z M869 1604H872V1620H869Z M1035 926H1038V932H1035Z M1035 1613H1038V1620H1035Z M1079 926H1082V932H1079Z M1079 1613H1082V1620H1079Z M1105 926H1108V932H1105Z M1105 1613H1108V1620H1105Z M1124 926H1127V932H1124Z M1124 1613H1127V1620H1124Z M1138 926H1141V932H1138Z M1138 1613H1141V1620H1138Z M1150 926H1153V932H1150Z M1150 1613H1153V1620H1150Z M1160 926H1163V932H1160Z M1160 1613H1163V1620H1160Z M1169 926H1172V932H1169Z M1169 1613H1172V1620H1169Z M1177 926H1180V941H1177Z M1177 1604H1180V1620H1177Z M229 1087H245V1091H229Z M1374 1087H1390V1091H1374Z M229 1272H245V1275H229Z M1374 1272H1390V1275H1374Z M229 1456H245V1459H229Z M1374 1456H1390V1459H1374Z M229 1604H237V1607H229Z M1382 1604H1390V1607H1382Z M229 1567H237V1570H229Z M1382 1567H1390V1570H1382Z M229 1530H237V1533H229Z M1382 1530H1390V1533H1382Z M229 1493H237V1496H229Z M1382 1493H1390V1496H1382Z M229 1419H237V1423H229Z M1382 1419H1390V1423H1382Z M229 1382H237V1386H229Z M1382 1382H1390V1386H1382Z M229 1346H237V1349H229Z M1382 1346H1390V1349H1382Z M229 1309H237V1312H229Z M1382 1309H1390V1312H1382Z M229 1235H237V1238H229Z M1382 1235H1390V1238H1382Z M229 1198H237V1201H229Z M1382 1198H1390V1201H1382Z M229 1161H237V1164H229Z M1382 1161H1390V1164H1382Z M229 1124H237V1127H229Z M1382 1124H1390V1127H1382Z M229 1050H237V1054H229Z M1382 1050H1390V1054H1382Z M229 1014H237V1017H229Z M1382 1014H1390V1017H1382Z M229 977H237V980H229Z M1382 977H1390V980H1382Z M229 940H237V943H229Z M1382 940H1390V943H1382Z M229 926H233V1620H229Z M1387 926H1390V1620H1387Z M229 926H1390V929H229Z M229 1616H1390V1620H229Z" fill="#000"/>
<path d="M385.1 1250.10 H462" stroke="#5E81B5" stroke-width="11.9"/>
<path d="M385.1 1383.10 H462" stroke="#E19C24" stroke-width="11.9"/>
<path d="M385.1 1516.00 H462" stroke="#8FB032" stroke-width="11.9"/>
<text transform="translate(638.57 69.20) scale(1.0260 1)" font-size="63.01" fill="#000">Bode Diagram</text>
<text transform="translate(172.91 128.20) scale(1.0000 1)" font-size="68.00" fill="#000">0</text>
<text transform="translate(95.45 265.65) scale(1.0000 1)" font-size="68.00" fill="#000">-25</text>
<text transform="translate(95.45 403.10) scale(1.0000 1)" font-size="68.00" fill="#000">-50</text>
<text transform="translate(95.45 540.55) scale(1.0000 1)" font-size="68.00" fill="#000">-75</text>
<text transform="translate(57.63 678.00) scale(1.0000 1)" dx="0.00 1.56 -1.56 0.00" font-size="68.00" fill="#000">-100</text>
<path d="M85.21 671.32H98.93V679H85.21Z M104.94 671.32H118.13V679H104.94Z" fill="#fff"/>
<text transform="translate(133.04 1109.75) scale(1.0000 1)" font-size="68.00" fill="#000">50</text>
<text transform="translate(170.86 1294.20) scale(1.0000 1)" font-size="68.00" fill="#000">0</text>
<text transform="translate(93.55 1478.65) scale(1.0000 1)" font-size="68.00" fill="#000">-50</text>
<text transform="translate(171.11 855.10) scale(1.0000 1)" dx="0.00 0.00 0.00 0.00 1.56" font-size="68.00" fill="#000">0.001</text>
<path d="M308.41 848.42H322.13V856.1H308.41Z M328.14 848.42H341.33V856.1H328.14Z" fill="#fff"/>
<text transform="translate(169.51 1690.00) scale(1.0000 1)" dx="0.00 0.00 0.00 0.00 1.56" font-size="68.00" fill="#000">0.001</text>
<path d="M306.81 1683.32H320.53V1691H306.81Z M326.54 1683.32H339.73V1691H326.54Z" fill="#fff"/>
<text transform="translate(516.43 855.10) scale(1.0000 1)" dx="0.00 0.00 1.56" font-size="68.00" fill="#000">0.1</text>
<path d="M578.09 848.42H591.81V856.1H578.09Z M597.82 848.42H611.01V856.1H597.82Z" fill="#fff"/>
<text transform="translate(515.49 1690.00) scale(1.0000 1)" dx="0.00 0.00 1.56" font-size="68.00" fill="#000">0.1</text>
<path d="M577.15 1683.32H590.87V1691H577.15Z M596.88 1683.32H610.07V1691H596.88Z" fill="#fff"/>
<text transform="translate(833.38 855.10) scale(1.0000 1)" dx="1.56 -1.56" font-size="68.00" fill="#000">10</text>
<path d="M838.32 848.42H852.04V856.1H838.32Z M858.05 848.42H871.24V856.1H858.05Z" fill="#fff"/>
<text transform="translate(833.10 1690.00) scale(1.0000 1)" dx="1.56 -1.56" font-size="68.00" fill="#000">10</text>
<path d="M838.04 1683.32H851.76V1691H838.04Z M857.77 1683.32H870.96V1691H857.77Z" fill="#fff"/>
<text transform="translate(1103.06 855.10) scale(1.0000 1)" dx="1.56 -1.56 0.00 0.00" font-size="68.00" fill="#000">1000</text>
<path d="M1108 848.42H1121.72V856.1H1108Z M1127.73 848.42H1140.92V856.1H1127.73Z" fill="#fff"/>
<text transform="translate(1103.44 1690.00) scale(1.0000 1)" dx="1.56 -1.56 0.00 0.00" font-size="68.00" fill="#000">1000</text>
<path d="M1108.38 1683.32H1122.1V1691H1108.38Z M1128.11 1683.32H1141.3V1691H1128.11Z" fill="#fff"/>
<text transform="translate(498.41 1267.50) scale(1.0000 1)" font-size="68.00" fill="#000">k=0.3</text>
<text transform="translate(498.41 1400.50) scale(1.0000 1)" dx="0.00 0.00 1.56" font-size="68.00" fill="#000">k=1</text>
<path d="M577.06 1393.82H590.78V1401.5H577.06Z M596.79 1393.82H609.98V1401.5H596.79Z" fill="#fff"/>
<text transform="translate(498.41 1533.40) scale(1.0000 1)" font-size="68.00" fill="#000">k=3</text>
<text transform="translate(637.75 1741.90) scale(1.0192 1)" font-size="62.43" fill="#332a29">Frequency (Hz)</text>
<text transform="translate(72.00 630.70) rotate(-90) scale(0.9403 1)" font-size="65.71" fill="#332a29">Magnitude(dB)</text>
<text transform="translate(87.90 1517.89) rotate(-90) scale(0.9423 1)" font-size="65.43" fill="#332a29">Phase(deg)</text>
</svg></body></html>
